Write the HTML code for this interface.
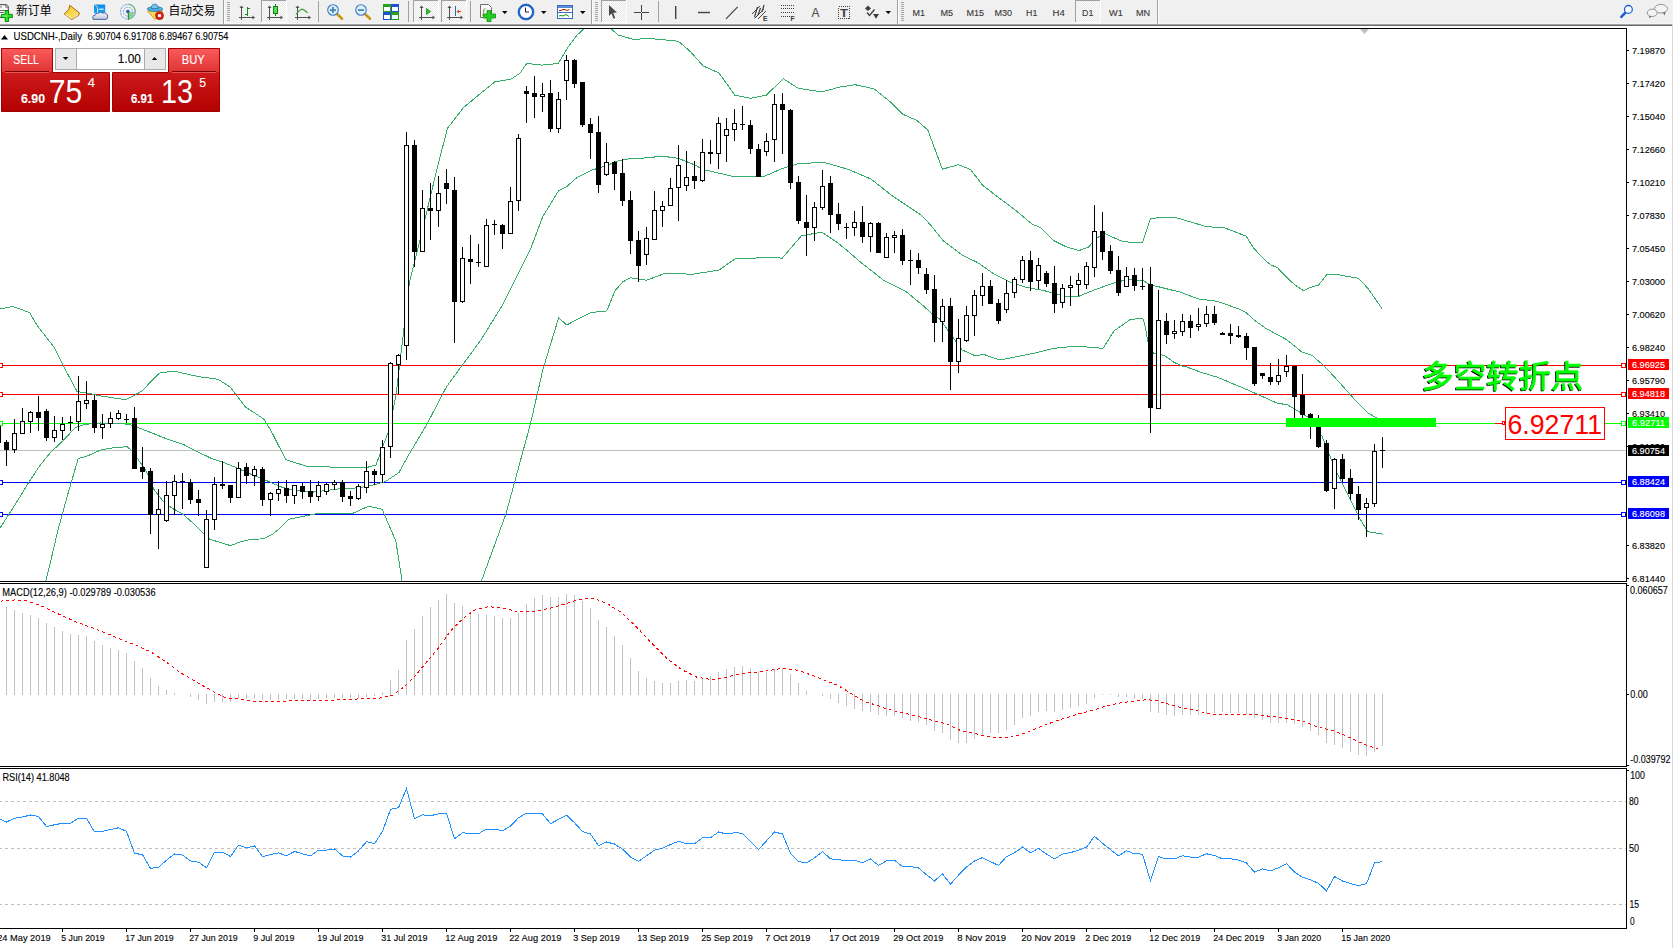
<!DOCTYPE html><html><head><meta charset="utf-8"><title>USDCNH-,Daily</title>
<style>html,body{margin:0;padding:0;background:#fff;overflow:hidden;width:1673px;height:948px}svg{display:block}text{white-space:pre}</style></head><body>
<svg width="1673" height="948" viewBox="0 0 1673 948">
<defs><clipPath id="cMain"><rect x="0" y="29" width="1626" height="552"/></clipPath><clipPath id="cMacd"><rect x="0" y="584" width="1626" height="182"/></clipPath><clipPath id="cRsi"><rect x="0" y="769" width="1626" height="159"/></clipPath><pattern id="chk" width="2" height="2" patternUnits="userSpaceOnUse"><rect width="2" height="2" fill="#fcfcfc"/><rect width="1" height="1" fill="#e9e9e9"/><rect x="1" y="1" width="1" height="1" fill="#e9e9e9"/></pattern><linearGradient id="gRed" x1="0" y1="0" x2="0" y2="1"><stop offset="0" stop-color="#f95a5a"/><stop offset="1" stop-color="#e03434"/></linearGradient><linearGradient id="gRed2" x1="0" y1="0" x2="0" y2="1"><stop offset="0" stop-color="#dd2a2a"/><stop offset="1" stop-color="#b30000"/></linearGradient><filter id="shadow" x="-5%" y="-5%" width="110%" height="110%"><feOffset in="SourceAlpha" dx="-1" dy="1" result="o"/><feFlood flood-color="#000"/><feComposite in2="o" operator="in" result="s"/><feMerge><feMergeNode in="s"/><feMergeNode in="SourceGraphic"/></feMerge></filter></defs>
<rect x="0" y="0" width="1673" height="948" fill="#fff"/>
<g clip-path="url(#cMain)" shape-rendering="crispEdges">
<rect x="0" y="450" width="1626" height="1" fill="#c0c0c0"/>
<rect x="0" y="365" width="1626" height="1" fill="#ff0000"/>
<rect x="0" y="394" width="1626" height="1" fill="#ff0000"/>
<rect x="0" y="423" width="1626" height="1" fill="#00ff00"/>
<rect x="0" y="482" width="1626" height="1" fill="#0000ff"/>
<rect x="0" y="514" width="1626" height="1" fill="#0000ff"/>
<polyline points="-3.5,309.5 0.5,308.9 12.7,306.4 29.5,312.5 37.2,325.5 54,347.1 63.2,365.5 77,391.5 87.1,393 101.5,396.1 126,399.7 141.3,391.5 159.5,373.1 173.4,371 199.4,376.8 217.8,379.2 230,386.9 245.3,406.8 263.7,419 270.5,429.7 285.8,459.7 307.2,466.4 340.9,467.3 365.3,467.9 376,464.9 388.3,431.8 395.9,396 404.5,324.1 409.5,281.8 422.1,231.2 438,164.7 447.5,128.3 463.3,107.8 482.3,92 494.9,81.8 510.8,79.3 520.2,73 526.6,63.5 542.4,65.1 558.2,63.5 567.7,47.7 577.2,35 586.5,26.5 597.5,22.5 608.5,26.5 618.3,35 634.2,39.7 646.8,38.2 662.7,39.7 678.5,41.3 690.8,52 703.2,66 719,73 734.8,95.1 750.6,98.3 766.5,95.1 783.2,78.7 798.1,88.2 821.8,92 839.2,87.2 855.1,84.7 874,88.8 889.9,101.5 902.5,114.1 916.8,120.4 927.8,129.9 942.3,169.2 958.5,164.7 970.5,169.5 982.7,185.3 997,196.4 1015.9,210.6 1031.8,223.9 1041.3,228 1053.9,240.7 1066.6,247 1079.2,250.5 1088.7,247 1095.1,239.1 1104.5,233.4 1120.4,240.7 1133,242.9 1142.5,242.9 1150.4,218.5 1161.5,217.6 1175.8,217.6 1193.2,222.7 1205.8,226.5 1224.8,228 1236.5,232.4 1246.1,236.2 1253.7,248.2 1259.5,254.4 1266.1,261.1 1270.9,264.9 1277.6,267.8 1283.4,274 1290.1,280.7 1295.8,285.5 1303.5,290.8 1309.2,287.9 1318.7,285 1326.4,275 1332.1,274 1336.9,274 1341.7,275.6 1347.4,276.4 1356,277.8 1358.9,278.8 1367.5,287.9 1381.9,308.4" fill="none" stroke="#33ad68" stroke-width="1" />
<polyline points="-3.5,530.5 0.5,527.3 8.9,514.3 19.1,498.2 28.4,483 39.4,466.1 51.2,451.8 63,440.8 74.8,428.1 81.6,425.2 90,423.9 100.5,423 129,424.2 141.3,428.8 145.7,430.5 166.3,438.7 182.8,444.2 196.5,451.1 210.2,457.9 223.9,462.7 237.6,468.2 251.3,474.4 265,479.9 280.5,486.7 288.9,489.3 310.3,492.4 340.9,488.7 359.2,487.8 371.5,485.4 385.2,481.7 399,472.5 408.2,455.7 426.5,425.1 446.4,386.9 463.2,363.9 480.5,340.6 502.6,304.9 516.6,276.8 530.7,248.7 542.7,216.7 558.7,190.6 566.7,186.6 576.8,177.6 590.8,170.5 606.8,165.5 618.9,160.5 630.5,158.5 640.5,158.4 662.7,156.2 678.5,158.4 694.3,164.7 703.2,169.5 734.8,176.8 763.3,176.8 782.3,168.5 798.1,163.8 823.4,162.2 848.7,169.5 870.9,179 893,196.4 921.5,215.4 930.5,224.9 943.2,240.7 962.1,254.9 978,262.8 993.8,273.9 1009.6,281.8 1025.4,287.2 1044.4,290.7 1066.6,296.7 1079.2,296.1 1095.1,289.7 1112.5,283.4 1126.7,279.6 1142.5,280.2 1152,285.9 1154.2,285.7 1180.8,292.3 1198.5,299 1216.3,301.2 1225.1,304.1 1239.9,309.3 1245.8,312.3 1254.7,320.4 1265,327.8 1278.3,335.2 1286.5,339.6 1301.8,351.9 1311.9,355.3 1325.4,367.1 1342.3,385.7 1355.8,400.9 1367.6,412.7 1377.7,418.8 1382.5,421.5" fill="none" stroke="#33ad68" stroke-width="1" />
<polyline points="40.5,610.5 45.8,580.5 51.2,559 57.9,530.3 63,511.7 68.1,493.1 73.1,476.2 78.2,458.5 86.6,456.3 95.1,452.6 100.5,450.1 114.2,447.6 127.2,446.7 132,451.1 137.5,458.6 143,466.1 148.5,475.7 154,489.5 163.6,501.8 171.8,508 182.8,514.1 193.7,523.7 203.3,533.3 210.2,539.5 219.8,542.2 230.7,545.7 239,542.2 249.9,539.5 263.6,538.8 271.9,534.7 280.5,527.8 288.9,519.3 316.4,513.8 353.1,513.2 368.4,506.2 382.1,509.2 395.9,541.3 402,580.5 410.5,630.5 440.5,660.5 470.5,630.5 481.6,580.5 506,513.8 530.5,423.6 542.8,370 551.7,340.5 558.7,317.9 566.7,324.9 590.8,312.5 606.8,310.9 614.9,290.9 622.9,281.8 630.5,277.8 646.8,280.2 665.8,273 684.8,273.9 690.5,274.5 719,270.1 734.8,259 766.5,257.5 782.3,258.1 801.3,235.9 821.8,232.1 839.2,243.9 861.4,262.8 883.5,280.2 905.7,291.3 924.7,307.1 930.5,312.5 940.5,319.8 949.5,332.5 962.1,349.9 974.8,355.6 984.3,354.6 1000.1,360 1019.1,356.2 1034.9,353 1053.9,348.3 1076.1,346.1 1103,348.3 1114,330.9 1129.9,319.8 1136.5,318.7 1142.8,318.7 1144.5,323.3 1145.8,330.1 1147.9,341.9 1150.5,350.5 1153.5,353 1156.5,353 1161.4,354.6 1165.2,356.2 1170.3,359.6 1174.5,362.6 1178.7,364.3 1182.1,366 1186.5,366.8 1200.5,372.2 1217.4,377.2 1237.6,385.7 1259,394.9 1278.2,403.7 1286.5,404.3 1295,409.3 1311.9,419.4 1322,436.3 1335.5,470.1 1349.1,497.1 1359.2,517.3 1367.6,531.5 1382.8,534.2" fill="none" stroke="#33ad68" stroke-width="1" />
<rect x="-2" y="425" width="1" height="18" fill="#000"/>
<rect x="-4" y="425" width="5" height="18" fill="#000"/>
<rect x="6" y="440" width="1" height="26" fill="#000"/>
<rect x="4" y="442" width="5" height="8" fill="#000"/>
<rect x="14" y="419" width="1" height="14" fill="#000"/>
<rect x="14" y="450" width="1" height="3" fill="#000"/>
<rect x="12.5" y="433.5" width="4" height="16" fill="#fff" stroke="#000" stroke-width="1"/>
<rect x="22" y="408" width="1" height="13" fill="#000"/>
<rect x="20.5" y="421.5" width="4" height="12" fill="#fff" stroke="#000" stroke-width="1"/>
<rect x="30" y="411" width="1" height="1" fill="#000"/>
<rect x="30" y="422" width="1" height="11" fill="#000"/>
<rect x="28.5" y="412.5" width="4" height="9" fill="#fff" stroke="#000" stroke-width="1"/>
<rect x="38" y="396" width="1" height="35" fill="#000"/>
<rect x="36" y="412" width="5" height="6" fill="#000"/>
<rect x="46" y="409" width="1" height="32" fill="#000"/>
<rect x="44" y="411" width="5" height="27" fill="#000"/>
<rect x="54" y="416" width="1" height="14" fill="#000"/>
<rect x="54" y="438" width="1" height="4" fill="#000"/>
<rect x="52.5" y="430.5" width="4" height="7" fill="#fff" stroke="#000" stroke-width="1"/>
<rect x="62" y="417" width="1" height="7" fill="#000"/>
<rect x="62" y="431" width="1" height="9" fill="#000"/>
<rect x="60.5" y="424.5" width="4" height="6" fill="#fff" stroke="#000" stroke-width="1"/>
<rect x="70" y="416" width="1" height="15" fill="#000"/>
<rect x="68" y="422" width="5" height="1" fill="#000"/>
<rect x="78" y="376" width="1" height="25" fill="#000"/>
<rect x="78" y="422" width="1" height="9" fill="#000"/>
<rect x="76.5" y="401.5" width="4" height="20" fill="#fff" stroke="#000" stroke-width="1"/>
<rect x="86" y="381" width="1" height="19" fill="#000"/>
<rect x="86" y="404" width="1" height="5" fill="#000"/>
<rect x="84.5" y="400.5" width="4" height="3" fill="#fff" stroke="#000" stroke-width="1"/>
<rect x="94" y="395" width="1" height="38" fill="#000"/>
<rect x="92" y="400" width="5" height="28" fill="#000"/>
<rect x="102" y="414" width="1" height="10" fill="#000"/>
<rect x="102" y="428" width="1" height="11" fill="#000"/>
<rect x="100.5" y="424.5" width="4" height="3" fill="#fff" stroke="#000" stroke-width="1"/>
<rect x="110" y="412" width="1" height="6" fill="#000"/>
<rect x="110" y="424" width="1" height="4" fill="#000"/>
<rect x="108.5" y="418.5" width="4" height="5" fill="#fff" stroke="#000" stroke-width="1"/>
<rect x="118" y="410" width="1" height="3" fill="#000"/>
<rect x="118" y="419" width="1" height="1" fill="#000"/>
<rect x="116.5" y="413.5" width="4" height="5" fill="#fff" stroke="#000" stroke-width="1"/>
<rect x="126" y="414" width="1" height="9" fill="#000"/>
<rect x="124" y="419" width="5" height="1" fill="#000"/>
<rect x="134" y="407" width="1" height="62" fill="#000"/>
<rect x="132" y="418" width="5" height="51" fill="#000"/>
<rect x="142" y="447" width="1" height="32" fill="#000"/>
<rect x="140" y="467" width="5" height="5" fill="#000"/>
<rect x="150" y="468" width="1" height="66" fill="#000"/>
<rect x="148" y="471" width="5" height="44" fill="#000"/>
<rect x="158" y="489" width="1" height="20" fill="#000"/>
<rect x="158" y="515" width="1" height="34" fill="#000"/>
<rect x="156.5" y="509.5" width="4" height="5" fill="#fff" stroke="#000" stroke-width="1"/>
<rect x="166" y="481" width="1" height="14" fill="#000"/>
<rect x="166" y="521" width="1" height="1" fill="#000"/>
<rect x="164.5" y="495.5" width="4" height="25" fill="#fff" stroke="#000" stroke-width="1"/>
<rect x="174" y="475" width="1" height="6" fill="#000"/>
<rect x="174" y="496" width="1" height="19" fill="#000"/>
<rect x="172.5" y="481.5" width="4" height="14" fill="#fff" stroke="#000" stroke-width="1"/>
<rect x="182" y="473" width="1" height="36" fill="#000"/>
<rect x="180" y="481" width="5" height="1" fill="#000"/>
<rect x="190" y="479" width="1" height="25" fill="#000"/>
<rect x="188" y="482" width="5" height="18" fill="#000"/>
<rect x="198" y="490" width="1" height="26" fill="#000"/>
<rect x="196" y="499" width="5" height="4" fill="#000"/>
<rect x="206" y="510" width="1" height="9" fill="#000"/>
<rect x="204.5" y="519.5" width="4" height="48" fill="#fff" stroke="#000" stroke-width="1"/>
<rect x="214" y="477" width="1" height="7" fill="#000"/>
<rect x="214" y="520" width="1" height="10" fill="#000"/>
<rect x="212.5" y="484.5" width="4" height="35" fill="#fff" stroke="#000" stroke-width="1"/>
<rect x="222" y="461" width="1" height="28" fill="#000"/>
<rect x="220" y="484" width="5" height="2" fill="#000"/>
<rect x="230" y="485" width="1" height="18" fill="#000"/>
<rect x="228" y="485" width="5" height="13" fill="#000"/>
<rect x="238" y="462" width="1" height="6" fill="#000"/>
<rect x="236.5" y="468.5" width="4" height="29" fill="#fff" stroke="#000" stroke-width="1"/>
<rect x="246" y="463" width="1" height="21" fill="#000"/>
<rect x="244" y="467" width="5" height="9" fill="#000"/>
<rect x="254" y="466" width="1" height="3" fill="#000"/>
<rect x="254" y="476" width="1" height="10" fill="#000"/>
<rect x="252.5" y="469.5" width="4" height="6" fill="#fff" stroke="#000" stroke-width="1"/>
<rect x="262" y="467" width="1" height="39" fill="#000"/>
<rect x="260" y="469" width="5" height="31" fill="#000"/>
<rect x="270" y="492" width="1" height="1" fill="#000"/>
<rect x="270" y="500" width="1" height="16" fill="#000"/>
<rect x="268.5" y="493.5" width="4" height="6" fill="#fff" stroke="#000" stroke-width="1"/>
<rect x="278" y="481" width="1" height="8" fill="#000"/>
<rect x="278" y="494" width="1" height="7" fill="#000"/>
<rect x="276.5" y="489.5" width="4" height="4" fill="#fff" stroke="#000" stroke-width="1"/>
<rect x="286" y="480" width="1" height="23" fill="#000"/>
<rect x="284" y="488" width="5" height="8" fill="#000"/>
<rect x="294" y="496" width="1" height="8" fill="#000"/>
<rect x="292.5" y="485.5" width="4" height="10" fill="#fff" stroke="#000" stroke-width="1"/>
<rect x="302" y="483" width="1" height="16" fill="#000"/>
<rect x="300" y="486" width="5" height="6" fill="#000"/>
<rect x="310" y="480" width="1" height="23" fill="#000"/>
<rect x="308" y="491" width="5" height="6" fill="#000"/>
<rect x="318" y="481" width="1" height="4" fill="#000"/>
<rect x="318" y="497" width="1" height="4" fill="#000"/>
<rect x="316.5" y="485.5" width="4" height="11" fill="#fff" stroke="#000" stroke-width="1"/>
<rect x="326" y="483" width="1" height="1" fill="#000"/>
<rect x="326" y="492" width="1" height="3" fill="#000"/>
<rect x="324.5" y="484.5" width="4" height="7" fill="#fff" stroke="#000" stroke-width="1"/>
<rect x="334" y="480" width="1" height="2" fill="#000"/>
<rect x="334" y="485" width="1" height="5" fill="#000"/>
<rect x="332.5" y="482.5" width="4" height="2" fill="#fff" stroke="#000" stroke-width="1"/>
<rect x="342" y="480" width="1" height="22" fill="#000"/>
<rect x="340" y="482" width="5" height="15" fill="#000"/>
<rect x="350" y="491" width="1" height="15" fill="#000"/>
<rect x="348" y="496" width="5" height="3" fill="#000"/>
<rect x="358" y="484" width="1" height="2" fill="#000"/>
<rect x="358" y="499" width="1" height="1" fill="#000"/>
<rect x="356.5" y="486.5" width="4" height="12" fill="#fff" stroke="#000" stroke-width="1"/>
<rect x="366" y="461" width="1" height="10" fill="#000"/>
<rect x="366" y="488" width="1" height="5" fill="#000"/>
<rect x="364.5" y="471.5" width="4" height="16" fill="#fff" stroke="#000" stroke-width="1"/>
<rect x="374" y="469" width="1" height="16" fill="#000"/>
<rect x="372" y="471" width="5" height="4" fill="#000"/>
<rect x="382" y="440" width="1" height="7" fill="#000"/>
<rect x="382" y="475" width="1" height="8" fill="#000"/>
<rect x="380.5" y="447.5" width="4" height="27" fill="#fff" stroke="#000" stroke-width="1"/>
<rect x="390" y="362" width="1" height="1" fill="#000"/>
<rect x="390" y="447" width="1" height="11" fill="#000"/>
<rect x="388.5" y="363.5" width="4" height="83" fill="#fff" stroke="#000" stroke-width="1"/>
<rect x="398" y="354" width="1" height="1" fill="#000"/>
<rect x="398" y="365" width="1" height="29" fill="#000"/>
<rect x="396.5" y="355.5" width="4" height="9" fill="#fff" stroke="#000" stroke-width="1"/>
<rect x="406" y="132" width="1" height="13" fill="#000"/>
<rect x="406" y="346" width="1" height="14" fill="#000"/>
<rect x="404.5" y="145.5" width="4" height="200" fill="#fff" stroke="#000" stroke-width="1"/>
<rect x="414" y="140" width="1" height="127" fill="#000"/>
<rect x="412" y="145" width="5" height="107" fill="#000"/>
<rect x="422" y="190" width="1" height="18" fill="#000"/>
<rect x="420.5" y="208.5" width="4" height="43" fill="#fff" stroke="#000" stroke-width="1"/>
<rect x="430" y="183" width="1" height="57" fill="#000"/>
<rect x="428" y="208" width="5" height="3" fill="#000"/>
<rect x="438" y="176" width="1" height="17" fill="#000"/>
<rect x="438" y="211" width="1" height="16" fill="#000"/>
<rect x="436.5" y="193.5" width="4" height="17" fill="#fff" stroke="#000" stroke-width="1"/>
<rect x="446" y="169" width="1" height="35" fill="#000"/>
<rect x="444" y="183" width="5" height="6" fill="#000"/>
<rect x="454" y="177" width="1" height="166" fill="#000"/>
<rect x="452" y="190" width="5" height="112" fill="#000"/>
<rect x="462" y="247" width="1" height="11" fill="#000"/>
<rect x="462" y="302" width="1" height="1" fill="#000"/>
<rect x="460.5" y="258.5" width="4" height="43" fill="#fff" stroke="#000" stroke-width="1"/>
<rect x="470" y="235" width="1" height="49" fill="#000"/>
<rect x="468" y="259" width="5" height="3" fill="#000"/>
<rect x="478" y="244" width="1" height="23" fill="#000"/>
<rect x="476" y="262" width="5" height="1" fill="#000"/>
<rect x="486" y="219" width="1" height="6" fill="#000"/>
<rect x="484.5" y="225.5" width="4" height="41" fill="#fff" stroke="#000" stroke-width="1"/>
<rect x="494" y="220" width="1" height="15" fill="#000"/>
<rect x="492" y="224" width="5" height="1" fill="#000"/>
<rect x="502" y="224" width="1" height="25" fill="#000"/>
<rect x="500" y="225" width="5" height="9" fill="#000"/>
<rect x="510" y="187" width="1" height="14" fill="#000"/>
<rect x="508.5" y="201.5" width="4" height="32" fill="#fff" stroke="#000" stroke-width="1"/>
<rect x="518" y="134" width="1" height="4" fill="#000"/>
<rect x="518" y="201" width="1" height="10" fill="#000"/>
<rect x="516.5" y="138.5" width="4" height="62" fill="#fff" stroke="#000" stroke-width="1"/>
<rect x="526" y="86" width="1" height="37" fill="#000"/>
<rect x="524" y="91" width="5" height="3" fill="#000"/>
<rect x="534" y="76" width="1" height="42" fill="#000"/>
<rect x="532" y="93" width="5" height="4" fill="#000"/>
<rect x="542" y="83" width="1" height="11" fill="#000"/>
<rect x="542" y="97" width="1" height="15" fill="#000"/>
<rect x="540.5" y="94.5" width="4" height="2" fill="#fff" stroke="#000" stroke-width="1"/>
<rect x="550" y="80" width="1" height="52" fill="#000"/>
<rect x="548" y="93" width="5" height="36" fill="#000"/>
<rect x="558" y="92" width="1" height="7" fill="#000"/>
<rect x="558" y="129" width="1" height="4" fill="#000"/>
<rect x="556.5" y="99.5" width="4" height="29" fill="#fff" stroke="#000" stroke-width="1"/>
<rect x="566" y="55" width="1" height="5" fill="#000"/>
<rect x="566" y="81" width="1" height="19" fill="#000"/>
<rect x="564.5" y="60.5" width="4" height="20" fill="#fff" stroke="#000" stroke-width="1"/>
<rect x="574" y="59" width="1" height="29" fill="#000"/>
<rect x="572" y="60" width="5" height="24" fill="#000"/>
<rect x="582" y="82" width="1" height="45" fill="#000"/>
<rect x="580" y="82" width="5" height="43" fill="#000"/>
<rect x="590" y="118" width="1" height="41" fill="#000"/>
<rect x="588" y="124" width="5" height="9" fill="#000"/>
<rect x="598" y="116" width="1" height="77" fill="#000"/>
<rect x="596" y="132" width="5" height="53" fill="#000"/>
<rect x="606" y="143" width="1" height="19" fill="#000"/>
<rect x="606" y="175" width="1" height="1" fill="#000"/>
<rect x="604.5" y="162.5" width="4" height="12" fill="#fff" stroke="#000" stroke-width="1"/>
<rect x="614" y="161" width="1" height="29" fill="#000"/>
<rect x="612" y="162" width="5" height="12" fill="#000"/>
<rect x="622" y="159" width="1" height="47" fill="#000"/>
<rect x="620" y="173" width="5" height="28" fill="#000"/>
<rect x="630" y="191" width="1" height="63" fill="#000"/>
<rect x="628" y="200" width="5" height="41" fill="#000"/>
<rect x="638" y="231" width="1" height="51" fill="#000"/>
<rect x="636" y="240" width="5" height="26" fill="#000"/>
<rect x="646" y="227" width="1" height="11" fill="#000"/>
<rect x="646" y="255" width="1" height="10" fill="#000"/>
<rect x="644.5" y="238.5" width="4" height="16" fill="#fff" stroke="#000" stroke-width="1"/>
<rect x="654" y="191" width="1" height="19" fill="#000"/>
<rect x="652.5" y="210.5" width="4" height="29" fill="#fff" stroke="#000" stroke-width="1"/>
<rect x="662" y="201" width="1" height="5" fill="#000"/>
<rect x="662" y="211" width="1" height="16" fill="#000"/>
<rect x="660.5" y="206.5" width="4" height="4" fill="#fff" stroke="#000" stroke-width="1"/>
<rect x="670" y="178" width="1" height="10" fill="#000"/>
<rect x="668.5" y="188.5" width="4" height="17" fill="#fff" stroke="#000" stroke-width="1"/>
<rect x="678" y="145" width="1" height="20" fill="#000"/>
<rect x="678" y="188" width="1" height="33" fill="#000"/>
<rect x="676.5" y="165.5" width="4" height="22" fill="#fff" stroke="#000" stroke-width="1"/>
<rect x="686" y="151" width="1" height="26" fill="#000"/>
<rect x="686" y="186" width="1" height="5" fill="#000"/>
<rect x="684.5" y="177.5" width="4" height="8" fill="#fff" stroke="#000" stroke-width="1"/>
<rect x="694" y="161" width="1" height="28" fill="#000"/>
<rect x="692" y="176" width="5" height="5" fill="#000"/>
<rect x="702" y="139" width="1" height="13" fill="#000"/>
<rect x="702" y="181" width="1" height="1" fill="#000"/>
<rect x="700.5" y="152.5" width="4" height="28" fill="#fff" stroke="#000" stroke-width="1"/>
<rect x="710" y="140" width="1" height="24" fill="#000"/>
<rect x="708" y="152" width="5" height="2" fill="#000"/>
<rect x="718" y="117" width="1" height="6" fill="#000"/>
<rect x="718" y="154" width="1" height="15" fill="#000"/>
<rect x="716.5" y="123.5" width="4" height="30" fill="#fff" stroke="#000" stroke-width="1"/>
<rect x="726" y="118" width="1" height="11" fill="#000"/>
<rect x="726" y="136" width="1" height="26" fill="#000"/>
<rect x="724.5" y="129.5" width="4" height="6" fill="#fff" stroke="#000" stroke-width="1"/>
<rect x="734" y="109" width="1" height="14" fill="#000"/>
<rect x="734" y="130" width="1" height="11" fill="#000"/>
<rect x="732.5" y="123.5" width="4" height="6" fill="#fff" stroke="#000" stroke-width="1"/>
<rect x="742" y="106" width="1" height="24" fill="#000"/>
<rect x="740" y="124" width="5" height="1" fill="#000"/>
<rect x="750" y="120" width="1" height="34" fill="#000"/>
<rect x="748" y="125" width="5" height="24" fill="#000"/>
<rect x="758" y="144" width="1" height="33" fill="#000"/>
<rect x="756" y="149" width="5" height="28" fill="#000"/>
<rect x="766" y="133" width="1" height="8" fill="#000"/>
<rect x="766" y="152" width="1" height="4" fill="#000"/>
<rect x="764.5" y="141.5" width="4" height="10" fill="#fff" stroke="#000" stroke-width="1"/>
<rect x="774" y="94" width="1" height="10" fill="#000"/>
<rect x="774" y="140" width="1" height="22" fill="#000"/>
<rect x="772.5" y="104.5" width="4" height="35" fill="#fff" stroke="#000" stroke-width="1"/>
<rect x="782" y="93" width="1" height="61" fill="#000"/>
<rect x="780" y="104" width="5" height="6" fill="#000"/>
<rect x="790" y="109" width="1" height="80" fill="#000"/>
<rect x="788" y="110" width="5" height="73" fill="#000"/>
<rect x="798" y="176" width="1" height="48" fill="#000"/>
<rect x="796" y="182" width="5" height="39" fill="#000"/>
<rect x="806" y="195" width="1" height="61" fill="#000"/>
<rect x="804" y="222" width="5" height="6" fill="#000"/>
<rect x="814" y="202" width="1" height="5" fill="#000"/>
<rect x="814" y="228" width="1" height="13" fill="#000"/>
<rect x="812.5" y="207.5" width="4" height="20" fill="#fff" stroke="#000" stroke-width="1"/>
<rect x="822" y="170" width="1" height="16" fill="#000"/>
<rect x="822" y="208" width="1" height="2" fill="#000"/>
<rect x="820.5" y="186.5" width="4" height="21" fill="#fff" stroke="#000" stroke-width="1"/>
<rect x="830" y="176" width="1" height="57" fill="#000"/>
<rect x="828" y="183" width="5" height="32" fill="#000"/>
<rect x="838" y="203" width="1" height="27" fill="#000"/>
<rect x="836" y="214" width="5" height="10" fill="#000"/>
<rect x="846" y="223" width="1" height="16" fill="#000"/>
<rect x="844" y="227" width="5" height="1" fill="#000"/>
<rect x="854" y="211" width="1" height="11" fill="#000"/>
<rect x="854" y="228" width="1" height="8" fill="#000"/>
<rect x="852.5" y="222.5" width="4" height="5" fill="#fff" stroke="#000" stroke-width="1"/>
<rect x="862" y="206" width="1" height="37" fill="#000"/>
<rect x="860" y="222" width="5" height="15" fill="#000"/>
<rect x="870" y="222" width="1" height="1" fill="#000"/>
<rect x="870" y="237" width="1" height="15" fill="#000"/>
<rect x="868.5" y="223.5" width="4" height="13" fill="#fff" stroke="#000" stroke-width="1"/>
<rect x="878" y="222" width="1" height="31" fill="#000"/>
<rect x="876" y="223" width="5" height="30" fill="#000"/>
<rect x="886" y="233" width="1" height="4" fill="#000"/>
<rect x="884.5" y="237.5" width="4" height="20" fill="#fff" stroke="#000" stroke-width="1"/>
<rect x="894" y="231" width="1" height="4" fill="#000"/>
<rect x="894" y="238" width="1" height="15" fill="#000"/>
<rect x="892.5" y="235.5" width="4" height="2" fill="#fff" stroke="#000" stroke-width="1"/>
<rect x="902" y="229" width="1" height="36" fill="#000"/>
<rect x="900" y="235" width="5" height="26" fill="#000"/>
<rect x="910" y="250" width="1" height="35" fill="#000"/>
<rect x="908" y="260" width="5" height="1" fill="#000"/>
<rect x="918" y="253" width="1" height="21" fill="#000"/>
<rect x="916" y="260" width="5" height="8" fill="#000"/>
<rect x="926" y="268" width="1" height="26" fill="#000"/>
<rect x="924" y="274" width="5" height="16" fill="#000"/>
<rect x="934" y="275" width="1" height="67" fill="#000"/>
<rect x="932" y="289" width="5" height="34" fill="#000"/>
<rect x="942" y="299" width="1" height="7" fill="#000"/>
<rect x="942" y="322" width="1" height="20" fill="#000"/>
<rect x="940.5" y="306.5" width="4" height="15" fill="#fff" stroke="#000" stroke-width="1"/>
<rect x="950" y="298" width="1" height="92" fill="#000"/>
<rect x="948" y="306" width="5" height="56" fill="#000"/>
<rect x="958" y="319" width="1" height="19" fill="#000"/>
<rect x="958" y="362" width="1" height="11" fill="#000"/>
<rect x="956.5" y="338.5" width="4" height="23" fill="#fff" stroke="#000" stroke-width="1"/>
<rect x="966" y="306" width="1" height="9" fill="#000"/>
<rect x="966" y="341" width="1" height="1" fill="#000"/>
<rect x="964.5" y="315.5" width="4" height="25" fill="#fff" stroke="#000" stroke-width="1"/>
<rect x="974" y="290" width="1" height="5" fill="#000"/>
<rect x="974" y="316" width="1" height="20" fill="#000"/>
<rect x="972.5" y="295.5" width="4" height="20" fill="#fff" stroke="#000" stroke-width="1"/>
<rect x="982" y="273" width="1" height="13" fill="#000"/>
<rect x="982" y="296" width="1" height="10" fill="#000"/>
<rect x="980.5" y="286.5" width="4" height="9" fill="#fff" stroke="#000" stroke-width="1"/>
<rect x="990" y="280" width="1" height="24" fill="#000"/>
<rect x="988" y="286" width="5" height="18" fill="#000"/>
<rect x="998" y="299" width="1" height="25" fill="#000"/>
<rect x="996" y="303" width="5" height="18" fill="#000"/>
<rect x="1006" y="280" width="1" height="13" fill="#000"/>
<rect x="1006" y="310" width="1" height="3" fill="#000"/>
<rect x="1004.5" y="293.5" width="4" height="16" fill="#fff" stroke="#000" stroke-width="1"/>
<rect x="1014" y="277" width="1" height="2" fill="#000"/>
<rect x="1014" y="293" width="1" height="5" fill="#000"/>
<rect x="1012.5" y="279.5" width="4" height="13" fill="#fff" stroke="#000" stroke-width="1"/>
<rect x="1022" y="256" width="1" height="4" fill="#000"/>
<rect x="1022" y="280" width="1" height="3" fill="#000"/>
<rect x="1020.5" y="260.5" width="4" height="19" fill="#fff" stroke="#000" stroke-width="1"/>
<rect x="1030" y="251" width="1" height="40" fill="#000"/>
<rect x="1028" y="260" width="5" height="22" fill="#000"/>
<rect x="1038" y="258" width="1" height="7" fill="#000"/>
<rect x="1038" y="281" width="1" height="8" fill="#000"/>
<rect x="1036.5" y="265.5" width="4" height="15" fill="#fff" stroke="#000" stroke-width="1"/>
<rect x="1046" y="271" width="1" height="16" fill="#000"/>
<rect x="1044" y="273" width="5" height="11" fill="#000"/>
<rect x="1054" y="266" width="1" height="47" fill="#000"/>
<rect x="1052" y="283" width="5" height="21" fill="#000"/>
<rect x="1062" y="284" width="1" height="4" fill="#000"/>
<rect x="1062" y="303" width="1" height="5" fill="#000"/>
<rect x="1060.5" y="288.5" width="4" height="14" fill="#fff" stroke="#000" stroke-width="1"/>
<rect x="1070" y="276" width="1" height="9" fill="#000"/>
<rect x="1070" y="288" width="1" height="18" fill="#000"/>
<rect x="1068.5" y="285.5" width="4" height="2" fill="#fff" stroke="#000" stroke-width="1"/>
<rect x="1078" y="273" width="1" height="7" fill="#000"/>
<rect x="1078" y="285" width="1" height="11" fill="#000"/>
<rect x="1076.5" y="280.5" width="4" height="4" fill="#fff" stroke="#000" stroke-width="1"/>
<rect x="1086" y="262" width="1" height="4" fill="#000"/>
<rect x="1086" y="285" width="1" height="4" fill="#000"/>
<rect x="1084.5" y="266.5" width="4" height="18" fill="#fff" stroke="#000" stroke-width="1"/>
<rect x="1094" y="205" width="1" height="26" fill="#000"/>
<rect x="1094" y="268" width="1" height="9" fill="#000"/>
<rect x="1092.5" y="231.5" width="4" height="36" fill="#fff" stroke="#000" stroke-width="1"/>
<rect x="1102" y="212" width="1" height="48" fill="#000"/>
<rect x="1100" y="231" width="5" height="21" fill="#000"/>
<rect x="1110" y="245" width="1" height="29" fill="#000"/>
<rect x="1108" y="251" width="5" height="20" fill="#000"/>
<rect x="1118" y="256" width="1" height="40" fill="#000"/>
<rect x="1116" y="270" width="5" height="23" fill="#000"/>
<rect x="1126" y="267" width="1" height="9" fill="#000"/>
<rect x="1124.5" y="276.5" width="4" height="10" fill="#fff" stroke="#000" stroke-width="1"/>
<rect x="1134" y="268" width="1" height="23" fill="#000"/>
<rect x="1132" y="275" width="5" height="11" fill="#000"/>
<rect x="1142" y="268" width="1" height="22" fill="#000"/>
<rect x="1140" y="286" width="5" height="1" fill="#000"/>
<rect x="1150" y="267" width="1" height="166" fill="#000"/>
<rect x="1148" y="284" width="5" height="124" fill="#000"/>
<rect x="1158" y="290" width="1" height="30" fill="#000"/>
<rect x="1156.5" y="320.5" width="4" height="88" fill="#fff" stroke="#000" stroke-width="1"/>
<rect x="1166" y="313" width="1" height="31" fill="#000"/>
<rect x="1164" y="321" width="5" height="14" fill="#000"/>
<rect x="1174" y="320" width="1" height="11" fill="#000"/>
<rect x="1174" y="334" width="1" height="5" fill="#000"/>
<rect x="1172.5" y="331.5" width="4" height="2" fill="#fff" stroke="#000" stroke-width="1"/>
<rect x="1182" y="314" width="1" height="7" fill="#000"/>
<rect x="1182" y="332" width="1" height="4" fill="#000"/>
<rect x="1180.5" y="321.5" width="4" height="10" fill="#fff" stroke="#000" stroke-width="1"/>
<rect x="1190" y="315" width="1" height="23" fill="#000"/>
<rect x="1188" y="321" width="5" height="7" fill="#000"/>
<rect x="1198" y="308" width="1" height="16" fill="#000"/>
<rect x="1198" y="327" width="1" height="4" fill="#000"/>
<rect x="1196.5" y="324.5" width="4" height="2" fill="#fff" stroke="#000" stroke-width="1"/>
<rect x="1206" y="306" width="1" height="8" fill="#000"/>
<rect x="1206" y="324" width="1" height="3" fill="#000"/>
<rect x="1204.5" y="314.5" width="4" height="9" fill="#fff" stroke="#000" stroke-width="1"/>
<rect x="1214" y="306" width="1" height="19" fill="#000"/>
<rect x="1212" y="314" width="5" height="9" fill="#000"/>
<rect x="1222" y="332" width="1" height="3" fill="#000"/>
<rect x="1220" y="333" width="5" height="2" fill="#000"/>
<rect x="1230" y="324" width="1" height="20" fill="#000"/>
<rect x="1228" y="333" width="5" height="3" fill="#000"/>
<rect x="1238" y="326" width="1" height="12" fill="#000"/>
<rect x="1236" y="335" width="5" height="2" fill="#000"/>
<rect x="1246" y="333" width="1" height="27" fill="#000"/>
<rect x="1244" y="336" width="5" height="12" fill="#000"/>
<rect x="1254" y="347" width="1" height="39" fill="#000"/>
<rect x="1252" y="347" width="5" height="37" fill="#000"/>
<rect x="1262" y="373" width="1" height="6" fill="#000"/>
<rect x="1260" y="373" width="5" height="3" fill="#000"/>
<rect x="1270" y="363" width="1" height="22" fill="#000"/>
<rect x="1268" y="377" width="5" height="5" fill="#000"/>
<rect x="1278" y="359" width="1" height="16" fill="#000"/>
<rect x="1278" y="382" width="1" height="3" fill="#000"/>
<rect x="1276.5" y="375.5" width="4" height="6" fill="#fff" stroke="#000" stroke-width="1"/>
<rect x="1286" y="355" width="1" height="11" fill="#000"/>
<rect x="1286" y="372" width="1" height="5" fill="#000"/>
<rect x="1284.5" y="366.5" width="4" height="5" fill="#fff" stroke="#000" stroke-width="1"/>
<rect x="1294" y="366" width="1" height="52" fill="#000"/>
<rect x="1292" y="366" width="5" height="31" fill="#000"/>
<rect x="1302" y="374" width="1" height="44" fill="#000"/>
<rect x="1300" y="395" width="5" height="20" fill="#000"/>
<rect x="1310" y="413" width="1" height="26" fill="#000"/>
<rect x="1308" y="414" width="5" height="13" fill="#000"/>
<rect x="1318" y="415" width="1" height="33" fill="#000"/>
<rect x="1316" y="427" width="5" height="20" fill="#000"/>
<rect x="1326" y="440" width="1" height="52" fill="#000"/>
<rect x="1324" y="443" width="5" height="48" fill="#000"/>
<rect x="1334" y="458" width="1" height="1" fill="#000"/>
<rect x="1334" y="489" width="1" height="20" fill="#000"/>
<rect x="1332.5" y="459.5" width="4" height="29" fill="#fff" stroke="#000" stroke-width="1"/>
<rect x="1342" y="454" width="1" height="28" fill="#000"/>
<rect x="1340" y="459" width="5" height="20" fill="#000"/>
<rect x="1350" y="469" width="1" height="31" fill="#000"/>
<rect x="1348" y="478" width="5" height="16" fill="#000"/>
<rect x="1358" y="486" width="1" height="34" fill="#000"/>
<rect x="1356" y="494" width="5" height="16" fill="#000"/>
<rect x="1366" y="498" width="1" height="5" fill="#000"/>
<rect x="1366" y="508" width="1" height="29" fill="#000"/>
<rect x="1364.5" y="503.5" width="4" height="4" fill="#fff" stroke="#000" stroke-width="1"/>
<rect x="1374" y="444" width="1" height="7" fill="#000"/>
<rect x="1374" y="504" width="1" height="3" fill="#000"/>
<rect x="1372.5" y="451.5" width="4" height="52" fill="#fff" stroke="#000" stroke-width="1"/>
<rect x="1382" y="437" width="1" height="31" fill="#000"/>
<rect x="1380" y="450" width="5" height="1" fill="#000"/>
<rect x="1286" y="418" width="150" height="9" fill="#00ff00"/>
<rect x="-1.5" y="363.5" width="4" height="4" fill="#fff" stroke="#ff0000"/>
<rect x="1621.5" y="363.5" width="4" height="4" fill="#fff" stroke="#ff0000"/>
<rect x="-1.5" y="392.5" width="4" height="4" fill="#fff" stroke="#ff0000"/>
<rect x="1621.5" y="392.5" width="4" height="4" fill="#fff" stroke="#ff0000"/>
<rect x="-1.5" y="421.5" width="4" height="4" fill="#fff" stroke="#00ff00"/>
<rect x="1621.5" y="421.5" width="4" height="4" fill="#fff" stroke="#00ff00"/>
<rect x="-1.5" y="480.5" width="4" height="4" fill="#fff" stroke="#0000ff"/>
<rect x="1621.5" y="480.5" width="4" height="4" fill="#fff" stroke="#0000ff"/>
<rect x="-1.5" y="512.5" width="4" height="4" fill="#fff" stroke="#0000ff"/>
<rect x="1621.5" y="512.5" width="4" height="4" fill="#fff" stroke="#0000ff"/>
<rect x="1495" y="423" width="7" height="1" fill="#ff0000"/>
<rect x="1502.5" y="421.5" width="2" height="3" fill="#fff" stroke="#ff0000"/>
<rect x="1505.5" y="407.5" width="99" height="32" fill="#fff" stroke="#ff0000"/>
</g>
<text x="1507.5" y="434" font-size="27.5" fill="#ff0000" font-family="'Liberation Sans', sans-serif" textLength="94.5" lengthAdjust="spacingAndGlyphs" >6.92711</text>
<text x="1421.5" y="386.5" font-size="31" fill="#00ff00" font-family="'Liberation Sans', 'Noto Sans CJK SC', 'WenQuanYi Zen Hei', sans-serif" textLength="162" lengthAdjust="spacingAndGlyphs" stroke="#00ff00" stroke-width="0.5" filter="url(#shadow)">多空转折点</text>
<polygon points="1360,29 1369,29 1364.5,34" fill="#c0c0c0"/>
<g clip-path="url(#cMacd)" shape-rendering="crispEdges">
<rect x="6" y="607" width="1" height="88" fill="#c0c0c0"/>
<rect x="14" y="610" width="1" height="85" fill="#c0c0c0"/>
<rect x="22" y="613" width="1" height="82" fill="#c0c0c0"/>
<rect x="30" y="615" width="1" height="80" fill="#c0c0c0"/>
<rect x="38" y="618" width="1" height="77" fill="#c0c0c0"/>
<rect x="46" y="623" width="1" height="72" fill="#c0c0c0"/>
<rect x="54" y="627" width="1" height="68" fill="#c0c0c0"/>
<rect x="62" y="631" width="1" height="64" fill="#c0c0c0"/>
<rect x="70" y="634" width="1" height="61" fill="#c0c0c0"/>
<rect x="78" y="635" width="1" height="60" fill="#c0c0c0"/>
<rect x="86" y="636" width="1" height="59" fill="#c0c0c0"/>
<rect x="94" y="641" width="1" height="54" fill="#c0c0c0"/>
<rect x="102" y="645" width="1" height="50" fill="#c0c0c0"/>
<rect x="110" y="648" width="1" height="47" fill="#c0c0c0"/>
<rect x="118" y="650" width="1" height="45" fill="#c0c0c0"/>
<rect x="126" y="653" width="1" height="42" fill="#c0c0c0"/>
<rect x="134" y="661" width="1" height="34" fill="#c0c0c0"/>
<rect x="142" y="668" width="1" height="27" fill="#c0c0c0"/>
<rect x="150" y="678" width="1" height="17" fill="#c0c0c0"/>
<rect x="158" y="686" width="1" height="9" fill="#c0c0c0"/>
<rect x="166" y="690" width="1" height="5" fill="#c0c0c0"/>
<rect x="174" y="693" width="1" height="2" fill="#c0c0c0"/>
<rect x="190" y="694" width="1" height="3" fill="#c0c0c0"/>
<rect x="198" y="694" width="1" height="6" fill="#c0c0c0"/>
<rect x="206" y="694" width="1" height="10" fill="#c0c0c0"/>
<rect x="214" y="694" width="1" height="8" fill="#c0c0c0"/>
<rect x="222" y="694" width="1" height="8" fill="#c0c0c0"/>
<rect x="230" y="694" width="1" height="8" fill="#c0c0c0"/>
<rect x="238" y="694" width="1" height="4" fill="#c0c0c0"/>
<rect x="246" y="694" width="1" height="5" fill="#c0c0c0"/>
<rect x="254" y="694" width="1" height="4" fill="#c0c0c0"/>
<rect x="262" y="694" width="1" height="6" fill="#c0c0c0"/>
<rect x="270" y="694" width="1" height="6" fill="#c0c0c0"/>
<rect x="278" y="694" width="1" height="6" fill="#c0c0c0"/>
<rect x="286" y="694" width="1" height="5" fill="#c0c0c0"/>
<rect x="294" y="694" width="1" height="5" fill="#c0c0c0"/>
<rect x="302" y="694" width="1" height="5" fill="#c0c0c0"/>
<rect x="310" y="694" width="1" height="6" fill="#c0c0c0"/>
<rect x="318" y="694" width="1" height="5" fill="#c0c0c0"/>
<rect x="326" y="694" width="1" height="4" fill="#c0c0c0"/>
<rect x="334" y="694" width="1" height="4" fill="#c0c0c0"/>
<rect x="342" y="694" width="1" height="4" fill="#c0c0c0"/>
<rect x="350" y="694" width="1" height="4" fill="#c0c0c0"/>
<rect x="358" y="694" width="1" height="4" fill="#c0c0c0"/>
<rect x="366" y="694" width="1" height="3" fill="#c0c0c0"/>
<rect x="374" y="694" width="1" height="2" fill="#c0c0c0"/>
<rect x="382" y="692" width="1" height="3" fill="#c0c0c0"/>
<rect x="390" y="680" width="1" height="15" fill="#c0c0c0"/>
<rect x="398" y="670" width="1" height="25" fill="#c0c0c0"/>
<rect x="406" y="640" width="1" height="55" fill="#c0c0c0"/>
<rect x="414" y="629" width="1" height="66" fill="#c0c0c0"/>
<rect x="422" y="616" width="1" height="79" fill="#c0c0c0"/>
<rect x="430" y="607" width="1" height="88" fill="#c0c0c0"/>
<rect x="438" y="600" width="1" height="95" fill="#c0c0c0"/>
<rect x="446" y="594" width="1" height="101" fill="#c0c0c0"/>
<rect x="454" y="603" width="1" height="92" fill="#c0c0c0"/>
<rect x="462" y="606" width="1" height="89" fill="#c0c0c0"/>
<rect x="470" y="612" width="1" height="83" fill="#c0c0c0"/>
<rect x="478" y="614" width="1" height="81" fill="#c0c0c0"/>
<rect x="486" y="615" width="1" height="80" fill="#c0c0c0"/>
<rect x="494" y="616" width="1" height="79" fill="#c0c0c0"/>
<rect x="502" y="618" width="1" height="77" fill="#c0c0c0"/>
<rect x="510" y="618" width="1" height="77" fill="#c0c0c0"/>
<rect x="518" y="613" width="1" height="82" fill="#c0c0c0"/>
<rect x="526" y="604" width="1" height="91" fill="#c0c0c0"/>
<rect x="534" y="598" width="1" height="97" fill="#c0c0c0"/>
<rect x="542" y="595" width="1" height="100" fill="#c0c0c0"/>
<rect x="550" y="597" width="1" height="98" fill="#c0c0c0"/>
<rect x="558" y="597" width="1" height="98" fill="#c0c0c0"/>
<rect x="566" y="594" width="1" height="101" fill="#c0c0c0"/>
<rect x="574" y="595" width="1" height="100" fill="#c0c0c0"/>
<rect x="582" y="601" width="1" height="94" fill="#c0c0c0"/>
<rect x="590" y="608" width="1" height="87" fill="#c0c0c0"/>
<rect x="598" y="620" width="1" height="75" fill="#c0c0c0"/>
<rect x="606" y="627" width="1" height="68" fill="#c0c0c0"/>
<rect x="614" y="636" width="1" height="59" fill="#c0c0c0"/>
<rect x="622" y="645" width="1" height="50" fill="#c0c0c0"/>
<rect x="630" y="658" width="1" height="37" fill="#c0c0c0"/>
<rect x="638" y="671" width="1" height="24" fill="#c0c0c0"/>
<rect x="646" y="678" width="1" height="17" fill="#c0c0c0"/>
<rect x="654" y="681" width="1" height="14" fill="#c0c0c0"/>
<rect x="662" y="683" width="1" height="12" fill="#c0c0c0"/>
<rect x="670" y="683" width="1" height="12" fill="#c0c0c0"/>
<rect x="678" y="681" width="1" height="14" fill="#c0c0c0"/>
<rect x="686" y="680" width="1" height="15" fill="#c0c0c0"/>
<rect x="694" y="681" width="1" height="14" fill="#c0c0c0"/>
<rect x="702" y="678" width="1" height="17" fill="#c0c0c0"/>
<rect x="710" y="676" width="1" height="19" fill="#c0c0c0"/>
<rect x="718" y="672" width="1" height="23" fill="#c0c0c0"/>
<rect x="726" y="669" width="1" height="26" fill="#c0c0c0"/>
<rect x="734" y="667" width="1" height="28" fill="#c0c0c0"/>
<rect x="742" y="666" width="1" height="29" fill="#c0c0c0"/>
<rect x="750" y="668" width="1" height="27" fill="#c0c0c0"/>
<rect x="758" y="671" width="1" height="24" fill="#c0c0c0"/>
<rect x="766" y="672" width="1" height="23" fill="#c0c0c0"/>
<rect x="774" y="669" width="1" height="26" fill="#c0c0c0"/>
<rect x="782" y="668" width="1" height="27" fill="#c0c0c0"/>
<rect x="790" y="674" width="1" height="21" fill="#c0c0c0"/>
<rect x="798" y="683" width="1" height="12" fill="#c0c0c0"/>
<rect x="806" y="691" width="1" height="4" fill="#c0c0c0"/>
<rect x="822" y="694" width="1" height="2" fill="#c0c0c0"/>
<rect x="830" y="694" width="1" height="5" fill="#c0c0c0"/>
<rect x="838" y="694" width="1" height="9" fill="#c0c0c0"/>
<rect x="846" y="694" width="1" height="12" fill="#c0c0c0"/>
<rect x="854" y="694" width="1" height="15" fill="#c0c0c0"/>
<rect x="862" y="694" width="1" height="17" fill="#c0c0c0"/>
<rect x="870" y="694" width="1" height="18" fill="#c0c0c0"/>
<rect x="878" y="694" width="1" height="21" fill="#c0c0c0"/>
<rect x="886" y="694" width="1" height="22" fill="#c0c0c0"/>
<rect x="894" y="694" width="1" height="22" fill="#c0c0c0"/>
<rect x="902" y="694" width="1" height="24" fill="#c0c0c0"/>
<rect x="910" y="694" width="1" height="27" fill="#c0c0c0"/>
<rect x="918" y="694" width="1" height="28" fill="#c0c0c0"/>
<rect x="926" y="694" width="1" height="31" fill="#c0c0c0"/>
<rect x="934" y="694" width="1" height="37" fill="#c0c0c0"/>
<rect x="942" y="694" width="1" height="39" fill="#c0c0c0"/>
<rect x="950" y="694" width="1" height="46" fill="#c0c0c0"/>
<rect x="958" y="694" width="1" height="49" fill="#c0c0c0"/>
<rect x="966" y="694" width="1" height="49" fill="#c0c0c0"/>
<rect x="974" y="694" width="1" height="45" fill="#c0c0c0"/>
<rect x="982" y="694" width="1" height="41" fill="#c0c0c0"/>
<rect x="990" y="694" width="1" height="39" fill="#c0c0c0"/>
<rect x="998" y="694" width="1" height="39" fill="#c0c0c0"/>
<rect x="1006" y="694" width="1" height="36" fill="#c0c0c0"/>
<rect x="1014" y="694" width="1" height="31" fill="#c0c0c0"/>
<rect x="1022" y="694" width="1" height="24" fill="#c0c0c0"/>
<rect x="1030" y="694" width="1" height="22" fill="#c0c0c0"/>
<rect x="1038" y="694" width="1" height="18" fill="#c0c0c0"/>
<rect x="1046" y="694" width="1" height="17" fill="#c0c0c0"/>
<rect x="1054" y="694" width="1" height="18" fill="#c0c0c0"/>
<rect x="1062" y="694" width="1" height="16" fill="#c0c0c0"/>
<rect x="1070" y="694" width="1" height="14" fill="#c0c0c0"/>
<rect x="1078" y="694" width="1" height="12" fill="#c0c0c0"/>
<rect x="1086" y="694" width="1" height="10" fill="#c0c0c0"/>
<rect x="1094" y="694" width="1" height="4" fill="#c0c0c0"/>
<rect x="1102" y="694" width="1" height="1" fill="#c0c0c0"/>
<rect x="1110" y="694" width="1" height="1" fill="#c0c0c0"/>
<rect x="1118" y="694" width="1" height="3" fill="#c0c0c0"/>
<rect x="1126" y="694" width="1" height="3" fill="#c0c0c0"/>
<rect x="1134" y="694" width="1" height="4" fill="#c0c0c0"/>
<rect x="1142" y="694" width="1" height="5" fill="#c0c0c0"/>
<rect x="1150" y="694" width="1" height="18" fill="#c0c0c0"/>
<rect x="1158" y="694" width="1" height="19" fill="#c0c0c0"/>
<rect x="1166" y="694" width="1" height="21" fill="#c0c0c0"/>
<rect x="1174" y="694" width="1" height="22" fill="#c0c0c0"/>
<rect x="1182" y="694" width="1" height="21" fill="#c0c0c0"/>
<rect x="1190" y="694" width="1" height="21" fill="#c0c0c0"/>
<rect x="1198" y="694" width="1" height="21" fill="#c0c0c0"/>
<rect x="1206" y="694" width="1" height="20" fill="#c0c0c0"/>
<rect x="1214" y="694" width="1" height="19" fill="#c0c0c0"/>
<rect x="1222" y="694" width="1" height="18" fill="#c0c0c0"/>
<rect x="1230" y="694" width="1" height="19" fill="#c0c0c0"/>
<rect x="1238" y="694" width="1" height="19" fill="#c0c0c0"/>
<rect x="1246" y="694" width="1" height="20" fill="#c0c0c0"/>
<rect x="1254" y="694" width="1" height="24" fill="#c0c0c0"/>
<rect x="1262" y="694" width="1" height="26" fill="#c0c0c0"/>
<rect x="1270" y="694" width="1" height="29" fill="#c0c0c0"/>
<rect x="1278" y="694" width="1" height="29" fill="#c0c0c0"/>
<rect x="1286" y="694" width="1" height="29" fill="#c0c0c0"/>
<rect x="1294" y="694" width="1" height="30" fill="#c0c0c0"/>
<rect x="1302" y="694" width="1" height="33" fill="#c0c0c0"/>
<rect x="1310" y="694" width="1" height="37" fill="#c0c0c0"/>
<rect x="1318" y="694" width="1" height="41" fill="#c0c0c0"/>
<rect x="1326" y="694" width="1" height="49" fill="#c0c0c0"/>
<rect x="1334" y="694" width="1" height="51" fill="#c0c0c0"/>
<rect x="1342" y="694" width="1" height="54" fill="#c0c0c0"/>
<rect x="1350" y="694" width="1" height="58" fill="#c0c0c0"/>
<rect x="1358" y="694" width="1" height="61" fill="#c0c0c0"/>
<rect x="1366" y="694" width="1" height="62" fill="#c0c0c0"/>
<rect x="1374" y="694" width="1" height="58" fill="#c0c0c0"/>
<rect x="1382" y="694" width="1" height="52" fill="#c0c0c0"/>
<polyline points="0.5,601.1 15.5,599.9 25.5,600.6 40.7,605.6 55.7,612.7 75.8,621.9 95.9,629 118.5,638.3 136.1,645.3 151.1,652.1 166.2,662.1 181.3,673.4 201.4,684.7 216.4,693.5 226.5,698 241.5,699.3 256.6,701.5 276.7,701.5 301.8,700.3 326.9,700.3 357,699 377.1,698.5 392.2,695.5 400.5,689.7 413.1,678.4 425.6,663.3 438.2,648.3 450.7,630.7 463.3,618.1 475.8,609.4 488.4,606.8 500.9,607.6 518.5,611.9 531.1,611.9 551.1,608.1 563.7,604.3 578.8,599.3 593.8,598.6 606.4,603.1 621.4,612.6 636.5,626.9 651.6,643.2 666.6,658.3 681.7,669.6 696.8,677.1 711.8,679.7 726.9,677.1 742,673.4 762,671.6 782.1,668.4 797.2,670.1 813,675.6 825.6,680.6 838.1,685.6 850.7,693.2 865.7,702 878.3,705.7 888.3,709.5 903.4,712.8 918.5,716.5 933.5,720.8 946.1,723.8 961.1,730.8 976.2,733.9 991.3,737.1 1006.3,737.9 1018.9,735.4 1031.4,730.3 1044,725.3 1059.1,720 1076.6,714.5 1094.2,710 1106.8,705.7 1121.8,702.7 1136.9,700.7 1146.9,699.7 1157,700.7 1169.5,704.5 1182.1,707.7 1197.1,710.8 1212.2,714.5 1230.5,714.7 1255.7,714.7 1274.7,716.8 1301.7,720.9 1318,727.1 1334.2,730.9 1350.5,738 1366.7,745.3 1378.9,749.3" fill="none" stroke="#ff0000" stroke-width="1" stroke-dasharray="3 3"/>
</g>
<g clip-path="url(#cRsi)" shape-rendering="crispEdges">
<line x1="0" y1="801.5" x2="1626" y2="801.5" stroke="#c0c0c0" stroke-width="1" stroke-dasharray="3 3" stroke-dashoffset="1"/>
<line x1="0" y1="848.5" x2="1626" y2="848.5" stroke="#c0c0c0" stroke-width="1" stroke-dasharray="3 3" stroke-dashoffset="1"/>
<line x1="0" y1="904.5" x2="1626" y2="904.5" stroke="#c0c0c0" stroke-width="1" stroke-dasharray="3 3" stroke-dashoffset="1"/>
<polyline points="0.5,819.5 6.5,822 14.5,818.2 22.5,817 30.5,815 38.5,816.5 46.5,826.5 54.5,824.8 62.5,823.2 70.5,823.2 78.5,818.2 86.5,818.2 94.5,832 102.5,831.3 110.5,829.5 118.5,827.8 126.5,831.3 134.5,853.4 142.5,854.6 150.5,868.4 158.5,867.2 166.5,860.2 174.5,853.9 182.5,855.1 190.5,860.9 198.5,862.2 206.5,867.7 214.5,852.1 222.5,852.1 230.5,856.6 238.5,845.1 246.5,847.8 254.5,845.8 262.5,856.6 270.5,854.6 278.5,852.9 286.5,855.9 294.5,851.4 302.5,853.9 310.5,855.9 318.5,850.1 326.5,850.1 334.5,848.9 342.5,855.9 350.5,857.1 358.5,850.9 366.5,841.6 374.5,843.8 382.5,831.3 390.5,809.4 398.5,807.7 406.5,788.7 414.5,818.7 422.5,814.9 430.5,815.7 438.5,813.9 446.5,813.2 454.5,838.8 462.5,832.7 470.5,833.7 478.5,833.7 486.5,829 494.5,829 502.5,830.7 510.5,826.2 518.5,817.7 526.5,813.2 534.5,813.9 542.5,813.9 550.5,823.7 558.5,819.4 566.5,815.2 574.5,822.7 582.5,831.5 590.5,834 598.5,845.8 606.5,842 614.5,844 622.5,849.1 630.5,857.1 638.5,861.4 646.5,855.8 654.5,850.1 662.5,848.3 670.5,844.5 678.5,841.3 686.5,843.8 694.5,843.8 702.5,837.8 710.5,837.8 718.5,832 726.5,834 734.5,832.7 742.5,833.2 750.5,841.5 758.5,849.6 766.5,840.8 774.5,832 782.5,834 790.5,853.3 798.5,861.6 806.5,862.9 814.5,857.9 822.5,851.6 830.5,858.9 838.5,859.6 846.5,860.9 854.5,860.1 862.5,862.9 870.5,858.9 878.5,865.4 886.5,860.9 894.5,860.1 902.5,866.6 910.5,866.6 918.5,867.9 926.5,874.7 934.5,880.9 942.5,873.9 950.5,884 958.5,875.2 966.5,867.1 974.5,860.9 982.5,857.6 990.5,861.6 998.5,865.4 1006.5,856.6 1014.5,852.8 1022.5,847.1 1030.5,852.8 1038.5,848.3 1046.5,854.1 1054.5,858.9 1062.5,854.1 1070.5,852.6 1078.5,850.3 1086.5,847.1 1094.5,836.3 1102.5,843.3 1110.5,849.6 1118.5,855.8 1126.5,850.8 1134.5,853.8 1142.5,854.1 1150.5,880.9 1158.5,856.6 1166.5,858.9 1174.5,858.9 1182.5,855.8 1190.5,857.1 1198.5,857.1 1206.5,853.8 1214.5,855.5 1222.5,858.8 1230.5,858.8 1238.5,860.1 1246.5,863 1254.5,872.2 1262.5,868.9 1270.5,870.8 1278.5,867.8 1286.5,863.6 1294.5,872.2 1302.5,877.2 1310.5,879.8 1318.5,883.3 1326.5,891 1334.5,876.5 1342.5,881 1350.5,883.6 1358.5,885.7 1366.5,883.6 1374.5,863 1382.5,861.6" fill="none" stroke="#1e90ff" stroke-width="1" />
</g>
<g shape-rendering="crispEdges" fill="#000">
<rect x="0" y="28" width="1627" height="1"/>
<rect x="1626" y="28" width="1" height="554"/>
<rect x="0" y="581" width="1627" height="1"/>
<rect x="0" y="583" width="1627" height="1"/>
<rect x="1626" y="583" width="1" height="184"/>
<rect x="0" y="766" width="1627" height="1"/>
<rect x="0" y="768" width="1627" height="1"/>
<rect x="1626" y="768" width="1" height="161"/>
<rect x="0" y="928" width="1627" height="1"/>
</g>
<rect x="1672" y="24" width="1" height="924" fill="#d8d8d8"/>
<rect x="1627" y="50" width="2" height="1" fill="#000" shape-rendering="crispEdges"/>
<text x="1632" y="54" font-size="9.7" fill="#000" font-family="'Liberation Sans', sans-serif" textLength="33" lengthAdjust="spacingAndGlyphs" stroke="#000" stroke-width="0.12" >7.19870</text>
<rect x="1627" y="83" width="2" height="1" fill="#000" shape-rendering="crispEdges"/>
<text x="1632" y="87" font-size="9.7" fill="#000" font-family="'Liberation Sans', sans-serif" textLength="33" lengthAdjust="spacingAndGlyphs" stroke="#000" stroke-width="0.12" >7.17420</text>
<rect x="1627" y="116" width="2" height="1" fill="#000" shape-rendering="crispEdges"/>
<text x="1632" y="120" font-size="9.7" fill="#000" font-family="'Liberation Sans', sans-serif" textLength="33" lengthAdjust="spacingAndGlyphs" stroke="#000" stroke-width="0.12" >7.15040</text>
<rect x="1627" y="149" width="2" height="1" fill="#000" shape-rendering="crispEdges"/>
<text x="1632" y="153" font-size="9.7" fill="#000" font-family="'Liberation Sans', sans-serif" textLength="33" lengthAdjust="spacingAndGlyphs" stroke="#000" stroke-width="0.12" >7.12660</text>
<rect x="1627" y="182" width="2" height="1" fill="#000" shape-rendering="crispEdges"/>
<text x="1632" y="186" font-size="9.7" fill="#000" font-family="'Liberation Sans', sans-serif" textLength="33" lengthAdjust="spacingAndGlyphs" stroke="#000" stroke-width="0.12" >7.10210</text>
<rect x="1627" y="215" width="2" height="1" fill="#000" shape-rendering="crispEdges"/>
<text x="1632" y="219" font-size="9.7" fill="#000" font-family="'Liberation Sans', sans-serif" textLength="33" lengthAdjust="spacingAndGlyphs" stroke="#000" stroke-width="0.12" >7.07830</text>
<rect x="1627" y="248" width="2" height="1" fill="#000" shape-rendering="crispEdges"/>
<text x="1632" y="252" font-size="9.7" fill="#000" font-family="'Liberation Sans', sans-serif" textLength="33" lengthAdjust="spacingAndGlyphs" stroke="#000" stroke-width="0.12" >7.05450</text>
<rect x="1627" y="281" width="2" height="1" fill="#000" shape-rendering="crispEdges"/>
<text x="1632" y="285" font-size="9.7" fill="#000" font-family="'Liberation Sans', sans-serif" textLength="33" lengthAdjust="spacingAndGlyphs" stroke="#000" stroke-width="0.12" >7.03000</text>
<rect x="1627" y="314" width="2" height="1" fill="#000" shape-rendering="crispEdges"/>
<text x="1632" y="318" font-size="9.7" fill="#000" font-family="'Liberation Sans', sans-serif" textLength="33" lengthAdjust="spacingAndGlyphs" stroke="#000" stroke-width="0.12" >7.00620</text>
<rect x="1627" y="347" width="2" height="1" fill="#000" shape-rendering="crispEdges"/>
<text x="1632" y="351" font-size="9.7" fill="#000" font-family="'Liberation Sans', sans-serif" textLength="33" lengthAdjust="spacingAndGlyphs" stroke="#000" stroke-width="0.12" >6.98240</text>
<rect x="1627" y="380" width="2" height="1" fill="#000" shape-rendering="crispEdges"/>
<text x="1632" y="384" font-size="9.7" fill="#000" font-family="'Liberation Sans', sans-serif" textLength="33" lengthAdjust="spacingAndGlyphs" stroke="#000" stroke-width="0.12" >6.95790</text>
<rect x="1627" y="413" width="2" height="1" fill="#000" shape-rendering="crispEdges"/>
<text x="1632" y="417" font-size="9.7" fill="#000" font-family="'Liberation Sans', sans-serif" textLength="33" lengthAdjust="spacingAndGlyphs" stroke="#000" stroke-width="0.12" >6.93410</text>
<rect x="1627" y="446" width="2" height="1" fill="#000" shape-rendering="crispEdges"/>
<text x="1632" y="450" font-size="9.7" fill="#000" font-family="'Liberation Sans', sans-serif" textLength="33" lengthAdjust="spacingAndGlyphs" stroke="#000" stroke-width="0.12" >6.91030</text>
<rect x="1627" y="545" width="2" height="1" fill="#000" shape-rendering="crispEdges"/>
<text x="1632" y="549" font-size="9.7" fill="#000" font-family="'Liberation Sans', sans-serif" textLength="33" lengthAdjust="spacingAndGlyphs" stroke="#000" stroke-width="0.12" >6.83820</text>
<rect x="1627" y="578" width="2" height="1" fill="#000" shape-rendering="crispEdges"/>
<text x="1632" y="582" font-size="9.7" fill="#000" font-family="'Liberation Sans', sans-serif" textLength="33" lengthAdjust="spacingAndGlyphs" stroke="#000" stroke-width="0.12" >6.81440</text>
<rect x="1628" y="359" width="41" height="11" fill="#ff0000" shape-rendering="crispEdges"/>
<text x="1632" y="368" font-size="9.7" fill="#fff" font-family="'Liberation Sans', sans-serif" textLength="33" lengthAdjust="spacingAndGlyphs" stroke="#fff" stroke-width="0.12" >6.96925</text>
<rect x="1628" y="388" width="41" height="11" fill="#ff0000" shape-rendering="crispEdges"/>
<text x="1632" y="397" font-size="9.7" fill="#fff" font-family="'Liberation Sans', sans-serif" textLength="33" lengthAdjust="spacingAndGlyphs" stroke="#fff" stroke-width="0.12" >6.94818</text>
<rect x="1628" y="417" width="41" height="11" fill="#00ff00" shape-rendering="crispEdges"/>
<text x="1632" y="426" font-size="9.7" fill="#fff" font-family="'Liberation Sans', sans-serif" textLength="33" lengthAdjust="spacingAndGlyphs" stroke="#fff" stroke-width="0.12" >6.92711</text>
<rect x="1628" y="445" width="41" height="11" fill="#000000" shape-rendering="crispEdges"/>
<text x="1632" y="454" font-size="9.7" fill="#fff" font-family="'Liberation Sans', sans-serif" textLength="33" lengthAdjust="spacingAndGlyphs" stroke="#fff" stroke-width="0.12" >6.90754</text>
<rect x="1628" y="476" width="41" height="11" fill="#0000ff" shape-rendering="crispEdges"/>
<text x="1632" y="485" font-size="9.7" fill="#fff" font-family="'Liberation Sans', sans-serif" textLength="33" lengthAdjust="spacingAndGlyphs" stroke="#fff" stroke-width="0.12" >6.88424</text>
<rect x="1628" y="508" width="41" height="11" fill="#0000ff" shape-rendering="crispEdges"/>
<text x="1632" y="517" font-size="9.7" fill="#fff" font-family="'Liberation Sans', sans-serif" textLength="33" lengthAdjust="spacingAndGlyphs" stroke="#fff" stroke-width="0.12" >6.86098</text>
<rect x="1627" y="585" width="2" height="1" fill="#000" shape-rendering="crispEdges"/>
<rect x="1627" y="694" width="2" height="1" fill="#000" shape-rendering="crispEdges"/>
<rect x="1627" y="765" width="2" height="1" fill="#000" shape-rendering="crispEdges"/>
<text x="1630" y="593.8" font-size="10" fill="#000" font-family="'Liberation Sans', sans-serif" textLength="37.8" lengthAdjust="spacingAndGlyphs" stroke="#000" stroke-width="0.12" >0.060657</text>
<text x="1630.2" y="698" font-size="10" fill="#000" font-family="'Liberation Sans', sans-serif" textLength="17.6" lengthAdjust="spacingAndGlyphs" stroke="#000" stroke-width="0.12" >0.00</text>
<text x="1630.2" y="762.7" font-size="10" fill="#000" font-family="'Liberation Sans', sans-serif" textLength="40.4" lengthAdjust="spacingAndGlyphs" stroke="#000" stroke-width="0.12" >-0.039792</text>
<rect x="1627" y="770" width="2" height="1" fill="#000" shape-rendering="crispEdges"/>
<text x="1630.2" y="779" font-size="10" fill="#000" font-family="'Liberation Sans', sans-serif" textLength="14.7" lengthAdjust="spacingAndGlyphs" stroke="#000" stroke-width="0.12" >100</text>
<text x="1629" y="805" font-size="10" fill="#000" font-family="'Liberation Sans', sans-serif" textLength="9.7" lengthAdjust="spacingAndGlyphs" stroke="#000" stroke-width="0.12" >80</text>
<text x="1629" y="852" font-size="10" fill="#000" font-family="'Liberation Sans', sans-serif" textLength="10" lengthAdjust="spacingAndGlyphs" stroke="#000" stroke-width="0.12" >50</text>
<text x="1629.5" y="908" font-size="10" fill="#000" font-family="'Liberation Sans', sans-serif" textLength="9.5" lengthAdjust="spacingAndGlyphs" stroke="#000" stroke-width="0.12" >15</text>
<text x="1630" y="925" font-size="10" fill="#000" font-family="'Liberation Sans', sans-serif" textLength="4.6" lengthAdjust="spacingAndGlyphs" stroke="#000" stroke-width="0.12" >0</text>
<text x="2.3" y="596" font-size="10.2" fill="#000" font-family="'Liberation Sans', sans-serif" textLength="153.3" lengthAdjust="spacingAndGlyphs" stroke="#000" stroke-width="0.12" >MACD(12,26,9) -0.029789 -0.030536</text>
<text x="2.4" y="781.3" font-size="10.2" fill="#000" font-family="'Liberation Sans', sans-serif" textLength="67.3" lengthAdjust="spacingAndGlyphs" stroke="#000" stroke-width="0.12" >RSI(14) 41.8048</text>
<text x="-2.8" y="941" font-size="9.8" fill="#000" font-family="'Liberation Sans', sans-serif" textLength="53.5" lengthAdjust="spacingAndGlyphs" stroke="#000" stroke-width="0.12" >24 May 2019</text>
<rect x="62" y="929" width="1" height="3" fill="#000"/>
<text x="61.2" y="941" font-size="9.8" fill="#000" font-family="'Liberation Sans', sans-serif" textLength="43.5" lengthAdjust="spacingAndGlyphs" stroke="#000" stroke-width="0.12" >5 Jun 2019</text>
<rect x="126" y="929" width="1" height="3" fill="#000"/>
<text x="125.2" y="941" font-size="9.8" fill="#000" font-family="'Liberation Sans', sans-serif" textLength="48.5" lengthAdjust="spacingAndGlyphs" stroke="#000" stroke-width="0.12" >17 Jun 2019</text>
<rect x="190" y="929" width="1" height="3" fill="#000"/>
<text x="189.2" y="941" font-size="9.8" fill="#000" font-family="'Liberation Sans', sans-serif" textLength="48.5" lengthAdjust="spacingAndGlyphs" stroke="#000" stroke-width="0.12" >27 Jun 2019</text>
<rect x="254" y="929" width="1" height="3" fill="#000"/>
<text x="253.2" y="941" font-size="9.8" fill="#000" font-family="'Liberation Sans', sans-serif" textLength="41.4" lengthAdjust="spacingAndGlyphs" stroke="#000" stroke-width="0.12" >9 Jul 2019</text>
<rect x="318" y="929" width="1" height="3" fill="#000"/>
<text x="317.2" y="941" font-size="9.8" fill="#000" font-family="'Liberation Sans', sans-serif" textLength="46.4" lengthAdjust="spacingAndGlyphs" stroke="#000" stroke-width="0.12" >19 Jul 2019</text>
<rect x="382" y="929" width="1" height="3" fill="#000"/>
<text x="381.2" y="941" font-size="9.8" fill="#000" font-family="'Liberation Sans', sans-serif" textLength="46.4" lengthAdjust="spacingAndGlyphs" stroke="#000" stroke-width="0.12" >31 Jul 2019</text>
<rect x="446" y="929" width="1" height="3" fill="#000"/>
<text x="445.2" y="941" font-size="9.8" fill="#000" font-family="'Liberation Sans', sans-serif" textLength="52.2" lengthAdjust="spacingAndGlyphs" stroke="#000" stroke-width="0.12" >12 Aug 2019</text>
<rect x="510" y="929" width="1" height="3" fill="#000"/>
<text x="509.2" y="941" font-size="9.8" fill="#000" font-family="'Liberation Sans', sans-serif" textLength="52.2" lengthAdjust="spacingAndGlyphs" stroke="#000" stroke-width="0.12" >22 Aug 2019</text>
<rect x="574" y="929" width="1" height="3" fill="#000"/>
<text x="573.2" y="941" font-size="9.8" fill="#000" font-family="'Liberation Sans', sans-serif" textLength="46.5" lengthAdjust="spacingAndGlyphs" stroke="#000" stroke-width="0.12" >3 Sep 2019</text>
<rect x="638" y="929" width="1" height="3" fill="#000"/>
<text x="637.2" y="941" font-size="9.8" fill="#000" font-family="'Liberation Sans', sans-serif" textLength="51.5" lengthAdjust="spacingAndGlyphs" stroke="#000" stroke-width="0.12" >13 Sep 2019</text>
<rect x="702" y="929" width="1" height="3" fill="#000"/>
<text x="701.2" y="941" font-size="9.8" fill="#000" font-family="'Liberation Sans', sans-serif" textLength="51.5" lengthAdjust="spacingAndGlyphs" stroke="#000" stroke-width="0.12" >25 Sep 2019</text>
<rect x="766" y="929" width="1" height="3" fill="#000"/>
<text x="765.2" y="941" font-size="9.8" fill="#000" font-family="'Liberation Sans', sans-serif" textLength="45.2" lengthAdjust="spacingAndGlyphs" stroke="#000" stroke-width="0.12" >7 Oct 2019</text>
<rect x="830" y="929" width="1" height="3" fill="#000"/>
<text x="829.2" y="941" font-size="9.8" fill="#000" font-family="'Liberation Sans', sans-serif" textLength="50.2" lengthAdjust="spacingAndGlyphs" stroke="#000" stroke-width="0.12" >17 Oct 2019</text>
<rect x="894" y="929" width="1" height="3" fill="#000"/>
<text x="893.2" y="941" font-size="9.8" fill="#000" font-family="'Liberation Sans', sans-serif" textLength="50.2" lengthAdjust="spacingAndGlyphs" stroke="#000" stroke-width="0.12" >29 Oct 2019</text>
<rect x="958" y="929" width="1" height="3" fill="#000"/>
<text x="957.2" y="941" font-size="9.8" fill="#000" font-family="'Liberation Sans', sans-serif" textLength="49" lengthAdjust="spacingAndGlyphs" stroke="#000" stroke-width="0.12" >8 Nov 2019</text>
<rect x="1022" y="929" width="1" height="3" fill="#000"/>
<text x="1021.2" y="941" font-size="9.8" fill="#000" font-family="'Liberation Sans', sans-serif" textLength="54" lengthAdjust="spacingAndGlyphs" stroke="#000" stroke-width="0.12" >20 Nov 2019</text>
<rect x="1086" y="929" width="1" height="3" fill="#000"/>
<text x="1085.2" y="941" font-size="9.8" fill="#000" font-family="'Liberation Sans', sans-serif" textLength="46.2" lengthAdjust="spacingAndGlyphs" stroke="#000" stroke-width="0.12" >2 Dec 2019</text>
<rect x="1150" y="929" width="1" height="3" fill="#000"/>
<text x="1149.2" y="941" font-size="9.8" fill="#000" font-family="'Liberation Sans', sans-serif" textLength="51.2" lengthAdjust="spacingAndGlyphs" stroke="#000" stroke-width="0.12" >12 Dec 2019</text>
<rect x="1214" y="929" width="1" height="3" fill="#000"/>
<text x="1213.2" y="941" font-size="9.8" fill="#000" font-family="'Liberation Sans', sans-serif" textLength="51.2" lengthAdjust="spacingAndGlyphs" stroke="#000" stroke-width="0.12" >24 Dec 2019</text>
<rect x="1278" y="929" width="1" height="3" fill="#000"/>
<text x="1277.2" y="941" font-size="9.8" fill="#000" font-family="'Liberation Sans', sans-serif" textLength="44.1" lengthAdjust="spacingAndGlyphs" stroke="#000" stroke-width="0.12" >3 Jan 2020</text>
<rect x="1342" y="929" width="1" height="3" fill="#000"/>
<text x="1341.2" y="941" font-size="9.8" fill="#000" font-family="'Liberation Sans', sans-serif" textLength="49.1" lengthAdjust="spacingAndGlyphs" stroke="#000" stroke-width="0.12" >15 Jan 2020</text>
<polygon points="1,39.5 4.5,35 8,39.5" fill="#000"/>
<text x="13.5" y="40" font-size="10.2" fill="#000" font-family="'Liberation Sans', sans-serif" textLength="68.5" lengthAdjust="spacingAndGlyphs" stroke="#000" stroke-width="0.12" >USDCNH-,Daily</text>
<text x="87.5" y="40" font-size="10.2" fill="#000" font-family="'Liberation Sans', sans-serif" textLength="141" lengthAdjust="spacingAndGlyphs" stroke="#000" stroke-width="0.12" >6.90704 6.91708 6.89467 6.90754</text>
<rect x="0" y="0" width="1673" height="24" fill="#f0f0f0"/>
<g shape-rendering="crispEdges">
<rect x="0" y="23" width="1672" height="1" fill="#f6f6f6"/>
<rect x="0" y="24" width="1672" height="1" fill="#a4a4a4"/>
<rect x="0" y="25" width="1672" height="1" fill="#6a6a6a"/>
</g>
<path d="M-1,4.6 H6.2 L8.3,6.7 V17.3 H-1 Z" fill="#fbfbfb" stroke="#5e5e5e" stroke-width="1.2"/>
<path d="M5.8,4.8 V7.2 H8.2" fill="#fff" stroke="#5e5e5e" stroke-width="0.9"/>
<rect x="0" y="6.5" width="2" height="1" fill="#707070"/><rect x="0" y="10" width="8" height="1" fill="#707070"/><rect x="0" y="12" width="4" height="1" fill="#707070"/>
<path d="M5.2,10.6 H8.6 V14.4 H12.4 V17.6 H8.6 V21.5 H5.2 V17.6 H1.4 V14.4 H5.2 Z" fill="#1ee81e" stroke="#087a08" stroke-width="0.9"/>
<rect x="2.2" y="15.2" width="5" height="1.6" fill="#8cf58c" opacity="0.7"/>
<text x="16" y="15" font-size="12" fill="#000" font-family="'Liberation Sans', 'Noto Sans CJK SC', 'WenQuanYi Zen Hei', sans-serif" textLength="35.5" lengthAdjust="spacingAndGlyphs" >新订单</text>
<defs><linearGradient id="gGold" x1="0" y1="0" x2="1" y2="1"><stop offset="0" stop-color="#f2c414"/><stop offset="1" stop-color="#fbe98a"/></linearGradient><linearGradient id="gCloud" x1="0" y1="0" x2="0" y2="1"><stop offset="0" stop-color="#ffffff"/><stop offset="1" stop-color="#b8c4d8"/></linearGradient><linearGradient id="gBlue" x1="0" y1="0" x2="0" y2="1"><stop offset="0" stop-color="#1688e0"/><stop offset="1" stop-color="#10a8f8"/></linearGradient><filter id="shadow" x="-5%" y="-5%" width="110%" height="110%"><feOffset in="SourceAlpha" dx="-1" dy="1" result="o"/><feFlood flood-color="#000"/><feComposite in2="o" operator="in" result="s"/><feMerge><feMergeNode in="s"/><feMergeNode in="SourceGraphic"/></feMerge></filter></defs>
<path d="M64.3,14 L68.8,9.3 L69.8,5.2 L79.3,12.8 L78.7,15.4 L71.8,19.6 Z" fill="url(#gGold)" stroke="#a8680c" stroke-width="1"/>
<path d="M65.6,14.2 L71.8,18.4" stroke="#fbeaa8" stroke-width="1.2"/>
<path d="M72.6,18.6 L78.4,15" stroke="#e8d8a0" stroke-width="1"/>
<rect x="94" y="4.4" width="11.2" height="9" rx="0.8" fill="url(#gBlue)"/>
<path d="M95,4.8 L97.6,7.4 V13" fill="none" stroke="#e8f6ff" stroke-width="0.9"/>
<rect x="99.2" y="8.6" width="4.4" height="1.2" fill="#e8f6ff"/>
<path d="M93.2,19.4 Q91.6,15.4 95.2,15.2 Q95.8,12.6 98.8,13.1 Q100.6,11.3 102.8,13.2 Q104.4,12.2 105.9,13.6 Q108.4,14.4 107.6,17.1 Q107.8,19.4 105.2,19.4 Z" fill="url(#gCloud)" stroke="#3a5a98" stroke-width="0.9"/>
<path d="M128,19.6 V12 H135.6 A7.6,7.6 0 0 1 128,19.6 Z" fill="#8ed08e" opacity="0.85"/>
<circle cx="127.9" cy="11.7" r="7.4" fill="none" stroke="#4a78d0" stroke-width="1" stroke-dasharray="2.2 1" opacity="0.75"/>
<circle cx="127.9" cy="11.7" r="4.6" fill="none" stroke="#5a8ad8" stroke-width="1" stroke-dasharray="1.8 1" opacity="0.8"/>
<path d="M128,4.3 A7.4,7.4 0 0 1 135.3,11.7" fill="none" stroke="#70b880" stroke-width="1.1"/>
<circle cx="127.9" cy="11.6" r="1.8" fill="#2058c8"/>
<rect x="127.8" y="12" width="1.3" height="7.7" fill="#18a018"/>
<path d="M147.6,11 L162.6,11 L155,19.6 Z" fill="#f6dc50" stroke="#c89818" stroke-width="0.9"/>
<ellipse cx="155" cy="9" rx="7.6" ry="2.3" fill="#5ab4e8" stroke="#2878a8" stroke-width="0.9"/>
<path d="M151.2,8.6 Q151.4,4.2 154.6,4.2 Q158,4.2 158.3,8.6 Z" fill="#78c4f0" stroke="#2878a8" stroke-width="0.9"/>
<circle cx="159.5" cy="15.7" r="4" fill="#e02010" stroke="#a01008" stroke-width="0.6"/>
<rect x="158" y="14.2" width="3" height="2.8" fill="#fff"/>
<text x="168.5" y="15" font-size="12" fill="#000" font-family="'Liberation Sans', 'Noto Sans CJK SC', 'WenQuanYi Zen Hei', sans-serif" textLength="47" lengthAdjust="spacingAndGlyphs" >自动交易</text>
<rect x="223" y="0" width="1" height="24" fill="#a0a0a0" shape-rendering="crispEdges"/>
<rect x="224" y="0" width="1" height="24" fill="#ffffff" shape-rendering="crispEdges"/>
<g fill="#a8a8a8" shape-rendering="crispEdges"><rect x="227" y="2" width="3" height="1"/><rect x="227" y="4" width="3" height="1"/><rect x="227" y="6" width="3" height="1"/><rect x="227" y="8" width="3" height="1"/><rect x="227" y="10" width="3" height="1"/><rect x="227" y="12" width="3" height="1"/><rect x="227" y="14" width="3" height="1"/><rect x="227" y="16" width="3" height="1"/><rect x="227" y="18" width="3" height="1"/><rect x="227" y="20" width="3" height="1"/></g>
<g fill="#505050" shape-rendering="crispEdges"><rect x="241" y="7" width="1" height="13"/><rect x="239" y="17" width="14" height="1"/></g><polygon points="241.5,5.5 239.5,8 243.5,8" fill="#505050"/><polygon points="255,17.5 252.5,15.5 252.5,19.5" fill="#505050"/>
<g fill="#109010" shape-rendering="crispEdges"><rect x="247" y="7" width="1" height="9"/><rect x="248" y="8" width="2" height="1"/><rect x="245" y="14" width="2" height="1"/></g>
<rect x="261" y="0" width="26" height="23" fill="#fdfdfd" shape-rendering="crispEdges"/>
<rect x="262" y="1" width="24" height="21" fill="url(#chk)" shape-rendering="crispEdges"/>
<rect x="261" y="0" width="1" height="22" fill="#a0a0a0" shape-rendering="crispEdges"/>
<rect x="261" y="0" width="25" height="1" fill="#a0a0a0" shape-rendering="crispEdges"/>
<g fill="#505050" shape-rendering="crispEdges"><rect x="269" y="7" width="1" height="13"/><rect x="267" y="17" width="14" height="1"/></g><polygon points="269.5,5.5 267.5,8 271.5,8" fill="#505050"/><polygon points="283,17.5 280.5,15.5 280.5,19.5" fill="#505050"/>
<rect x="275" y="4" width="1" height="12" fill="#108010" shape-rendering="crispEdges"/>
<rect x="273.5" y="6.5" width="4" height="7" fill="#50e050" stroke="#108010" shape-rendering="crispEdges"/>
<g fill="#505050" shape-rendering="crispEdges"><rect x="297" y="7" width="1" height="13"/><rect x="295" y="17" width="14" height="1"/></g><polygon points="297.5,5.5 295.5,8 299.5,8" fill="#505050"/><polygon points="311,17.5 308.5,15.5 308.5,19.5" fill="#505050"/>
<path d="M296,14.5 Q299,10 302,9 Q305,10 307.5,12.8" fill="none" stroke="#2a9a2a" stroke-width="1.2"/>
<rect x="318" y="1" width="1" height="21" fill="#a0a0a0" shape-rendering="crispEdges"/>
<path d="M336.5,13.5 L342,18.8" stroke="#c89a10" stroke-width="2.6" stroke-linecap="round"/>
<circle cx="333" cy="10" r="5.3" fill="#dcf0fc" stroke="#3a78c8" stroke-width="1.1"/>
<rect x="330" y="9.2" width="6" height="1.8" fill="#4a88b0"/>
<rect x="332.1" y="7" width="1.8" height="6" fill="#4a88b0"/>
<path d="M364.5,13.5 L370,18.8" stroke="#c89a10" stroke-width="2.6" stroke-linecap="round"/>
<circle cx="361" cy="10" r="5.3" fill="#dcf0fc" stroke="#3a78c8" stroke-width="1.1"/>
<rect x="358" y="9.2" width="6" height="1.8" fill="#4a88b0"/>
<rect x="383" y="4" width="8" height="8" fill="#28a020" shape-rendering="crispEdges"/>
<rect x="384" y="7" width="6" height="4" fill="#fff" shape-rendering="crispEdges"/>
<rect x="391" y="4" width="8" height="8" fill="#2050d0" shape-rendering="crispEdges"/>
<rect x="392" y="7" width="6" height="4" fill="#fff" shape-rendering="crispEdges"/>
<rect x="383" y="12" width="8" height="8" fill="#2050d0" shape-rendering="crispEdges"/>
<rect x="384" y="15" width="6" height="4" fill="#fff" shape-rendering="crispEdges"/>
<rect x="391" y="12" width="8" height="8" fill="#28a020" shape-rendering="crispEdges"/>
<rect x="392" y="15" width="6" height="4" fill="#fff" shape-rendering="crispEdges"/>
<rect x="408" y="1" width="1" height="21" fill="#a0a0a0" shape-rendering="crispEdges"/>
<rect x="413" y="0" width="26" height="23" fill="#fdfdfd" shape-rendering="crispEdges"/>
<rect x="414" y="1" width="24" height="21" fill="url(#chk)" shape-rendering="crispEdges"/>
<rect x="413" y="0" width="1" height="22" fill="#a0a0a0" shape-rendering="crispEdges"/>
<rect x="413" y="0" width="25" height="1" fill="#a0a0a0" shape-rendering="crispEdges"/>
<g fill="#505050" shape-rendering="crispEdges"><rect x="421" y="7" width="1" height="13"/><rect x="419" y="17" width="14" height="1"/></g><polygon points="421.5,5.5 419.5,8 423.5,8" fill="#505050"/><polygon points="435,17.5 432.5,15.5 432.5,19.5" fill="#505050"/>
<polygon points="426.5,8.5 430.5,11.5 426.5,14.5" fill="#30c030" stroke="#109010" stroke-width="0.8"/>
<rect x="441" y="0" width="26" height="23" fill="#fdfdfd" shape-rendering="crispEdges"/>
<rect x="442" y="1" width="24" height="21" fill="url(#chk)" shape-rendering="crispEdges"/>
<rect x="441" y="0" width="1" height="22" fill="#a0a0a0" shape-rendering="crispEdges"/>
<rect x="441" y="0" width="25" height="1" fill="#a0a0a0" shape-rendering="crispEdges"/>
<g fill="#505050" shape-rendering="crispEdges"><rect x="449" y="7" width="1" height="13"/><rect x="447" y="17" width="14" height="1"/></g><polygon points="449.5,5.5 447.5,8 451.5,8" fill="#505050"/><polygon points="463,17.5 460.5,15.5 460.5,19.5" fill="#505050"/>
<rect x="455" y="6" width="1" height="10" fill="#1a70b0" shape-rendering="crispEdges"/>
<polygon points="456.5,11.5 459,9.5 459,11 461,11 461,12 459,12 459,13.5" fill="#e05010"/>
<rect x="470" y="1" width="1" height="21" fill="#a0a0a0" shape-rendering="crispEdges"/>
<path d="M480.5,4.5 H488.5 L491.5,7.5 V17.5 H480.5 Z" fill="#fafafa" stroke="#707070"/>
<text x="482.5" y="14" font-size="8" font-style="italic" fill="#604020" font-family="Liberation Serif, serif">f</text>
<path d="M487,10.5 H491 V14 H495.5 V18 H491 V21.5 H487 V18 H483.5 V14 H487 Z" fill="#22d022" stroke="#0a900a" stroke-width="0.8"/>
<polygon points="502,11 507.5,11 504.75,14" fill="#000"/>
<circle cx="526" cy="12" r="7" fill="#fff" stroke="#1a6ad0" stroke-width="2"/>
<circle cx="526" cy="12" r="8" fill="none" stroke="#0b4aa0" stroke-width="0.6"/>
<path d="M525.5,7.5 V12 H529" fill="none" stroke="#202020" stroke-width="1"/>
<polygon points="541,11 546.5,11 543.75,14" fill="#000"/>
<rect x="557.5" y="5.5" width="15" height="13" fill="#fff" stroke="#3a6fc0"/>
<rect x="558" y="6" width="14" height="2" fill="#5a8ad8"/>
<rect x="558" y="12" width="14" height="1" fill="#3a6fc0"/>
<path d="M559,10.5 L561,10.5 L563,9.5 L565,9.5 L567,10.5 L569.5,9.5" fill="none" stroke="#b02000" stroke-width="1"/>
<path d="M559,16 L561,15.5 L563,16 L566,14.5 L569,16.5" fill="none" stroke="#109010" stroke-width="1"/>
<polygon points="580,11 585.5,11 582.75,14" fill="#000"/>
<rect x="591" y="0" width="1" height="24" fill="#a0a0a0" shape-rendering="crispEdges"/>
<rect x="592" y="0" width="1" height="24" fill="#ffffff" shape-rendering="crispEdges"/>
<g fill="#a8a8a8" shape-rendering="crispEdges"><rect x="595" y="2" width="3" height="1"/><rect x="595" y="4" width="3" height="1"/><rect x="595" y="6" width="3" height="1"/><rect x="595" y="8" width="3" height="1"/><rect x="595" y="10" width="3" height="1"/><rect x="595" y="12" width="3" height="1"/><rect x="595" y="14" width="3" height="1"/><rect x="595" y="16" width="3" height="1"/><rect x="595" y="18" width="3" height="1"/><rect x="595" y="20" width="3" height="1"/></g>
<rect x="601" y="0" width="26" height="23" fill="#fdfdfd" shape-rendering="crispEdges"/>
<rect x="602" y="1" width="24" height="21" fill="url(#chk)" shape-rendering="crispEdges"/>
<rect x="601" y="0" width="1" height="22" fill="#a0a0a0" shape-rendering="crispEdges"/>
<rect x="601" y="0" width="25" height="1" fill="#a0a0a0" shape-rendering="crispEdges"/>
<polygon points="609,5 609,16 611.5,13.5 613.5,18.8 615.2,18 613.2,12.8 617,12.6" fill="#4a4a4a"/>
<g fill="#404040" shape-rendering="crispEdges"><rect x="641" y="5" width="1" height="15"/><rect x="634" y="12" width="15" height="1"/></g>
<rect x="641" y="12" width="1" height="1" fill="#f0f0f0" shape-rendering="crispEdges"/>
<rect x="658" y="1" width="1" height="21" fill="#a0a0a0" shape-rendering="crispEdges"/>
<rect x="675" y="6" width="1.4" height="13" fill="#404040"/>
<rect x="698" y="11.8" width="12" height="1.4" fill="#404040"/>
<path d="M726,18.8 L737.7,6.9" stroke="#404040" stroke-width="1.2"/>
<path d="M752,14 L760,6 M754.5,18.5 L764,9 M758,19 L766,11" stroke="#404040" stroke-width="1" fill="none"/>
<path d="M757.5,7 L754.5,17 M760.5,8 L758,15 M764,5 L762,12" stroke="#404040" stroke-width="1.2" fill="none"/>
<text x="763" y="21" font-size="6.5" fill="#404040" font-family="'Liberation Sans', sans-serif" font-weight="bold" stroke="#404040" stroke-width="0.12" >E</text>
<g stroke="#404040" stroke-width="1" stroke-dasharray="1 1" shape-rendering="crispEdges"><line x1="781" y1="5.5" x2="795" y2="5.5"/><line x1="781" y1="8.5" x2="795" y2="8.5"/><line x1="781" y1="12.5" x2="795" y2="12.5"/><line x1="781" y1="16.5" x2="791" y2="16.5"/></g>
<text x="790.5" y="21" font-size="6.5" fill="#404040" font-family="'Liberation Sans', sans-serif" font-weight="bold" stroke="#404040" stroke-width="0.12" >F</text>
<text x="811.5" y="16.7" font-size="12" fill="#505050" font-family="'Liberation Sans', sans-serif" textLength="8" lengthAdjust="spacingAndGlyphs" stroke="#505050" stroke-width="0.12" >A</text>
<rect x="838.5" y="6.5" width="11" height="12" fill="none" stroke="#404040" stroke-dasharray="1 1" shape-rendering="crispEdges"/>
<text x="840" y="16.5" font-size="11.5" fill="#404040" font-family="'Liberation Sans', sans-serif" font-weight="bold" textLength="8" lengthAdjust="spacingAndGlyphs" stroke="#404040" stroke-width="0.12" >T</text>
<polygon points="868,5.5 871,8.5 868,11 865,8.5" fill="#404040"/>
<path d="M867,12.5 L869.5,15.5 L874.5,9.5" fill="none" stroke="#404040" stroke-width="1.4"/>
<polygon points="873,14 879,14 876,18.8" fill="#404040"/>
<polygon points="885.5,11 891,11 888.25,14" fill="#000"/>
<rect x="897" y="0" width="1" height="24" fill="#a0a0a0" shape-rendering="crispEdges"/>
<rect x="898" y="0" width="1" height="24" fill="#ffffff" shape-rendering="crispEdges"/>
<g fill="#a8a8a8" shape-rendering="crispEdges"><rect x="901" y="2" width="3" height="1"/><rect x="901" y="4" width="3" height="1"/><rect x="901" y="6" width="3" height="1"/><rect x="901" y="8" width="3" height="1"/><rect x="901" y="10" width="3" height="1"/><rect x="901" y="12" width="3" height="1"/><rect x="901" y="14" width="3" height="1"/><rect x="901" y="16" width="3" height="1"/><rect x="901" y="18" width="3" height="1"/><rect x="901" y="20" width="3" height="1"/></g>
<text x="912.5" y="16" font-size="9.6" fill="#383838" font-family="'Liberation Sans', sans-serif" textLength="12.5" lengthAdjust="spacingAndGlyphs" stroke="#383838" stroke-width="0.12" >M1</text>
<text x="940.5" y="16" font-size="9.6" fill="#383838" font-family="'Liberation Sans', sans-serif" textLength="12.6" lengthAdjust="spacingAndGlyphs" stroke="#383838" stroke-width="0.12" >M5</text>
<text x="966.5" y="16" font-size="9.6" fill="#383838" font-family="'Liberation Sans', sans-serif" textLength="17.6" lengthAdjust="spacingAndGlyphs" stroke="#383838" stroke-width="0.12" >M15</text>
<text x="994.5" y="16" font-size="9.6" fill="#383838" font-family="'Liberation Sans', sans-serif" textLength="17.6" lengthAdjust="spacingAndGlyphs" stroke="#383838" stroke-width="0.12" >M30</text>
<text x="1026" y="16" font-size="9.6" fill="#383838" font-family="'Liberation Sans', sans-serif" textLength="11.3" lengthAdjust="spacingAndGlyphs" stroke="#383838" stroke-width="0.12" >H1</text>
<text x="1052.5" y="16" font-size="9.6" fill="#383838" font-family="'Liberation Sans', sans-serif" textLength="12.3" lengthAdjust="spacingAndGlyphs" stroke="#383838" stroke-width="0.12" >H4</text>
<rect x="1075" y="0" width="26" height="23" fill="#fdfdfd" shape-rendering="crispEdges"/>
<rect x="1076" y="1" width="24" height="21" fill="url(#chk)" shape-rendering="crispEdges"/>
<rect x="1075" y="0" width="1" height="22" fill="#a0a0a0" shape-rendering="crispEdges"/>
<rect x="1075" y="0" width="25" height="1" fill="#a0a0a0" shape-rendering="crispEdges"/>
<text x="1082" y="16" font-size="9.6" fill="#383838" font-family="'Liberation Sans', sans-serif" textLength="11.3" lengthAdjust="spacingAndGlyphs" stroke="#383838" stroke-width="0.12" >D1</text>
<text x="1109" y="16" font-size="9.6" fill="#383838" font-family="'Liberation Sans', sans-serif" textLength="13.8" lengthAdjust="spacingAndGlyphs" stroke="#383838" stroke-width="0.12" >W1</text>
<text x="1136" y="16" font-size="9.6" fill="#383838" font-family="'Liberation Sans', sans-serif" textLength="14.2" lengthAdjust="spacingAndGlyphs" stroke="#383838" stroke-width="0.12" >MN</text>
<rect x="1157" y="0" width="1" height="24" fill="#a0a0a0" shape-rendering="crispEdges"/>
<rect x="1158" y="0" width="1" height="24" fill="#ffffff" shape-rendering="crispEdges"/>
<path d="M1625.2,12.8 L1621.3,16.8" stroke="#1a5fd0" stroke-width="2.6" stroke-linecap="round"/>
<circle cx="1628.4" cy="9.4" r="3.9" fill="#fff" stroke="#1a5fd0" stroke-width="1.3"/>
<ellipse cx="1661" cy="8.7" rx="6.5" ry="4.3" fill="#f4f4f4" stroke="#8a8a8a" stroke-width="0.9"/>
<polygon points="1663,12.5 1664.5,15.5 1665.5,12" fill="#606060"/>
<ellipse cx="1652.2" cy="12.8" rx="5" ry="3.7" fill="#f4f4f4" stroke="#8a8a8a" stroke-width="0.9"/>
<polygon points="1649.5,16 1649,18.5 1651.5,16.3" fill="#606060"/>
<path d="M1.5,48.5 H52.5 V72.5 H109.5 V111.5 H1.5 Z" fill="url(#gRed2)" stroke="#a00000" stroke-width="1"/>
<rect x="2" y="49" width="50" height="23" fill="url(#gRed)"/>
<rect x="5" y="71" width="44" height="1" fill="#800000"/><rect x="5" y="72" width="44" height="1" fill="#f07070" opacity="0.7"/>
<text x="13.3" y="64" font-size="12.5" fill="#fff" font-family="'Liberation Sans', sans-serif" textLength="25.5" lengthAdjust="spacingAndGlyphs" stroke="#fff" stroke-width="0.12" >SELL</text>
<text x="21" y="103" font-size="12.5" fill="#fff" font-family="'Liberation Sans', sans-serif" font-weight="bold" textLength="24" lengthAdjust="spacingAndGlyphs" stroke="#fff" stroke-width="0.12" >6.90</text>
<text x="48.8" y="103" font-size="33" fill="#fff" font-family="'Liberation Sans', sans-serif" textLength="33.5" lengthAdjust="spacingAndGlyphs" >75</text>
<text x="87.8" y="86.8" font-size="12.5" fill="#fff" font-family="'Liberation Sans', sans-serif" textLength="7.2" lengthAdjust="spacingAndGlyphs" stroke="#fff" stroke-width="0.12" >4</text>
<path d="M168.5,48.5 H219.5 V111.5 H112.5 V72.5 H168.5 Z" fill="url(#gRed2)" stroke="#a00000" stroke-width="1"/>
<rect x="169" y="49" width="50" height="23" fill="url(#gRed)"/>
<rect x="172" y="71" width="44" height="1" fill="#800000"/><rect x="172" y="72" width="44" height="1" fill="#f07070" opacity="0.7"/>
<text x="181.7" y="64" font-size="12.5" fill="#fff" font-family="'Liberation Sans', sans-serif" textLength="23" lengthAdjust="spacingAndGlyphs" stroke="#fff" stroke-width="0.12" >BUY</text>
<text x="131" y="103" font-size="12.5" fill="#fff" font-family="'Liberation Sans', sans-serif" font-weight="bold" textLength="22.3" lengthAdjust="spacingAndGlyphs" stroke="#fff" stroke-width="0.12" >6.91</text>
<text x="161" y="103" font-size="33" fill="#fff" font-family="'Liberation Sans', sans-serif" textLength="32" lengthAdjust="spacingAndGlyphs" >13</text>
<text x="199.3" y="86.8" font-size="12.5" fill="#fff" font-family="'Liberation Sans', sans-serif" textLength="6.8" lengthAdjust="spacingAndGlyphs" stroke="#fff" stroke-width="0.12" >5</text>
<rect x="55.5" y="48.5" width="110" height="21" fill="#fff" stroke="#acacac"/>
<rect x="56" y="49" width="20" height="20" fill="#e8e8e8"/>
<rect x="76" y="49" width="1" height="20" fill="#acacac"/>
<rect x="145" y="49" width="20" height="20" fill="#e8e8e8"/>
<rect x="144" y="49" width="1" height="20" fill="#acacac"/>
<polygon points="62.8,57 68.4,57 65.6,60" fill="#000"/>
<polygon points="151.8,60 157.2,60 154.5,57" fill="#000"/>
<text x="140.8" y="63" font-size="12" fill="#000" font-family="'Liberation Sans', sans-serif" text-anchor="end" textLength="23" lengthAdjust="spacingAndGlyphs" stroke="#000" stroke-width="0.12" >1.00</text>
</svg></body></html>
